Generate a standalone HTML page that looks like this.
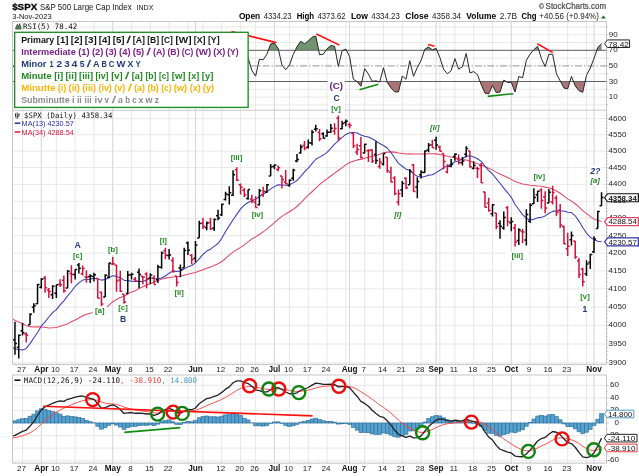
<!DOCTYPE html><html><head><meta charset="utf-8"><title>$SPX</title><style>html,body{margin:0;padding:0;background:#fff}body{width:639px;height:476px;overflow:hidden}</style></head><body><svg width="639" height="476" viewBox="0 0 639 476" style="display:block">
<rect width="639" height="476" fill="#fff"/>
<g shape-rendering="auto">
<line x1="22.50" y1="21.5" x2="22.50" y2="364.3" stroke="#e2e2e2" stroke-width="0.8"/>
<line x1="41.30" y1="21.5" x2="41.30" y2="364.3" stroke="#c9c9c9" stroke-width="0.8"/>
<line x1="56.34" y1="21.5" x2="56.34" y2="364.3" stroke="#e2e2e2" stroke-width="0.8"/>
<line x1="75.14" y1="21.5" x2="75.14" y2="364.3" stroke="#e2e2e2" stroke-width="0.8"/>
<line x1="93.94" y1="21.5" x2="93.94" y2="364.3" stroke="#e2e2e2" stroke-width="0.8"/>
<line x1="112.74" y1="21.5" x2="112.74" y2="364.3" stroke="#c9c9c9" stroke-width="0.8"/>
<line x1="131.54" y1="21.5" x2="131.54" y2="364.3" stroke="#e2e2e2" stroke-width="0.8"/>
<line x1="150.34" y1="21.5" x2="150.34" y2="364.3" stroke="#e2e2e2" stroke-width="0.8"/>
<line x1="169.14" y1="21.5" x2="169.14" y2="364.3" stroke="#e2e2e2" stroke-width="0.8"/>
<line x1="187.94" y1="21.5" x2="187.94" y2="364.3" stroke="#e2e2e2" stroke-width="0.8"/>
<line x1="195.46" y1="21.5" x2="195.46" y2="364.3" stroke="#c9c9c9" stroke-width="0.8"/>
<line x1="202.98" y1="21.5" x2="202.98" y2="364.3" stroke="#e2e2e2" stroke-width="0.8"/>
<line x1="221.78" y1="21.5" x2="221.78" y2="364.3" stroke="#e2e2e2" stroke-width="0.8"/>
<line x1="240.58" y1="21.5" x2="240.58" y2="364.3" stroke="#e2e2e2" stroke-width="0.8"/>
<line x1="255.62" y1="21.5" x2="255.62" y2="364.3" stroke="#e2e2e2" stroke-width="0.8"/>
<line x1="274.42" y1="21.5" x2="274.42" y2="364.3" stroke="#c9c9c9" stroke-width="0.8"/>
<line x1="289.46" y1="21.5" x2="289.46" y2="364.3" stroke="#e2e2e2" stroke-width="0.8"/>
<line x1="308.26" y1="21.5" x2="308.26" y2="364.3" stroke="#e2e2e2" stroke-width="0.8"/>
<line x1="327.06" y1="21.5" x2="327.06" y2="364.3" stroke="#e2e2e2" stroke-width="0.8"/>
<line x1="345.86" y1="21.5" x2="345.86" y2="364.3" stroke="#e2e2e2" stroke-width="0.8"/>
<line x1="349.62" y1="21.5" x2="349.62" y2="364.3" stroke="#c9c9c9" stroke-width="0.8"/>
<line x1="364.66" y1="21.5" x2="364.66" y2="364.3" stroke="#e2e2e2" stroke-width="0.8"/>
<line x1="383.46" y1="21.5" x2="383.46" y2="364.3" stroke="#e2e2e2" stroke-width="0.8"/>
<line x1="402.26" y1="21.5" x2="402.26" y2="364.3" stroke="#e2e2e2" stroke-width="0.8"/>
<line x1="421.06" y1="21.5" x2="421.06" y2="364.3" stroke="#e2e2e2" stroke-width="0.8"/>
<line x1="436.10" y1="21.5" x2="436.10" y2="364.3" stroke="#c9c9c9" stroke-width="0.8"/>
<line x1="439.86" y1="21.5" x2="439.86" y2="364.3" stroke="#e2e2e2" stroke-width="0.8"/>
<line x1="454.90" y1="21.5" x2="454.90" y2="364.3" stroke="#e2e2e2" stroke-width="0.8"/>
<line x1="473.70" y1="21.5" x2="473.70" y2="364.3" stroke="#e2e2e2" stroke-width="0.8"/>
<line x1="492.50" y1="21.5" x2="492.50" y2="364.3" stroke="#e2e2e2" stroke-width="0.8"/>
<line x1="511.30" y1="21.5" x2="511.30" y2="364.3" stroke="#c9c9c9" stroke-width="0.8"/>
<line x1="530.10" y1="21.5" x2="530.10" y2="364.3" stroke="#e2e2e2" stroke-width="0.8"/>
<line x1="548.90" y1="21.5" x2="548.90" y2="364.3" stroke="#e2e2e2" stroke-width="0.8"/>
<line x1="567.70" y1="21.5" x2="567.70" y2="364.3" stroke="#e2e2e2" stroke-width="0.8"/>
<line x1="586.50" y1="21.5" x2="586.50" y2="364.3" stroke="#e2e2e2" stroke-width="0.8"/>
<line x1="594.02" y1="21.5" x2="594.02" y2="364.3" stroke="#c9c9c9" stroke-width="0.8"/>
<line x1="22.50" y1="375.0" x2="22.50" y2="463.0" stroke="#e2e2e2" stroke-width="0.8"/>
<line x1="41.30" y1="375.0" x2="41.30" y2="463.0" stroke="#c9c9c9" stroke-width="0.8"/>
<line x1="56.34" y1="375.0" x2="56.34" y2="463.0" stroke="#e2e2e2" stroke-width="0.8"/>
<line x1="75.14" y1="375.0" x2="75.14" y2="463.0" stroke="#e2e2e2" stroke-width="0.8"/>
<line x1="93.94" y1="375.0" x2="93.94" y2="463.0" stroke="#e2e2e2" stroke-width="0.8"/>
<line x1="112.74" y1="375.0" x2="112.74" y2="463.0" stroke="#c9c9c9" stroke-width="0.8"/>
<line x1="131.54" y1="375.0" x2="131.54" y2="463.0" stroke="#e2e2e2" stroke-width="0.8"/>
<line x1="150.34" y1="375.0" x2="150.34" y2="463.0" stroke="#e2e2e2" stroke-width="0.8"/>
<line x1="169.14" y1="375.0" x2="169.14" y2="463.0" stroke="#e2e2e2" stroke-width="0.8"/>
<line x1="187.94" y1="375.0" x2="187.94" y2="463.0" stroke="#e2e2e2" stroke-width="0.8"/>
<line x1="195.46" y1="375.0" x2="195.46" y2="463.0" stroke="#c9c9c9" stroke-width="0.8"/>
<line x1="202.98" y1="375.0" x2="202.98" y2="463.0" stroke="#e2e2e2" stroke-width="0.8"/>
<line x1="221.78" y1="375.0" x2="221.78" y2="463.0" stroke="#e2e2e2" stroke-width="0.8"/>
<line x1="240.58" y1="375.0" x2="240.58" y2="463.0" stroke="#e2e2e2" stroke-width="0.8"/>
<line x1="255.62" y1="375.0" x2="255.62" y2="463.0" stroke="#e2e2e2" stroke-width="0.8"/>
<line x1="274.42" y1="375.0" x2="274.42" y2="463.0" stroke="#c9c9c9" stroke-width="0.8"/>
<line x1="289.46" y1="375.0" x2="289.46" y2="463.0" stroke="#e2e2e2" stroke-width="0.8"/>
<line x1="308.26" y1="375.0" x2="308.26" y2="463.0" stroke="#e2e2e2" stroke-width="0.8"/>
<line x1="327.06" y1="375.0" x2="327.06" y2="463.0" stroke="#e2e2e2" stroke-width="0.8"/>
<line x1="345.86" y1="375.0" x2="345.86" y2="463.0" stroke="#e2e2e2" stroke-width="0.8"/>
<line x1="349.62" y1="375.0" x2="349.62" y2="463.0" stroke="#c9c9c9" stroke-width="0.8"/>
<line x1="364.66" y1="375.0" x2="364.66" y2="463.0" stroke="#e2e2e2" stroke-width="0.8"/>
<line x1="383.46" y1="375.0" x2="383.46" y2="463.0" stroke="#e2e2e2" stroke-width="0.8"/>
<line x1="402.26" y1="375.0" x2="402.26" y2="463.0" stroke="#e2e2e2" stroke-width="0.8"/>
<line x1="421.06" y1="375.0" x2="421.06" y2="463.0" stroke="#e2e2e2" stroke-width="0.8"/>
<line x1="436.10" y1="375.0" x2="436.10" y2="463.0" stroke="#c9c9c9" stroke-width="0.8"/>
<line x1="439.86" y1="375.0" x2="439.86" y2="463.0" stroke="#e2e2e2" stroke-width="0.8"/>
<line x1="454.90" y1="375.0" x2="454.90" y2="463.0" stroke="#e2e2e2" stroke-width="0.8"/>
<line x1="473.70" y1="375.0" x2="473.70" y2="463.0" stroke="#e2e2e2" stroke-width="0.8"/>
<line x1="492.50" y1="375.0" x2="492.50" y2="463.0" stroke="#e2e2e2" stroke-width="0.8"/>
<line x1="511.30" y1="375.0" x2="511.30" y2="463.0" stroke="#c9c9c9" stroke-width="0.8"/>
<line x1="530.10" y1="375.0" x2="530.10" y2="463.0" stroke="#e2e2e2" stroke-width="0.8"/>
<line x1="548.90" y1="375.0" x2="548.90" y2="463.0" stroke="#e2e2e2" stroke-width="0.8"/>
<line x1="567.70" y1="375.0" x2="567.70" y2="463.0" stroke="#e2e2e2" stroke-width="0.8"/>
<line x1="586.50" y1="375.0" x2="586.50" y2="463.0" stroke="#e2e2e2" stroke-width="0.8"/>
<line x1="594.02" y1="375.0" x2="594.02" y2="463.0" stroke="#c9c9c9" stroke-width="0.8"/>
<line x1="12.5" y1="104.90" x2="606.5" y2="104.90" stroke="#e2e2e2" stroke-width="0.8"/>
<line x1="12.5" y1="97.10" x2="606.5" y2="97.10" stroke="#e2e2e2" stroke-width="0.8"/>
<line x1="12.5" y1="89.30" x2="606.5" y2="89.30" stroke="#e2e2e2" stroke-width="0.8"/>
<line x1="12.5" y1="73.70" x2="606.5" y2="73.70" stroke="#e2e2e2" stroke-width="0.8"/>
<line x1="12.5" y1="58.10" x2="606.5" y2="58.10" stroke="#e2e2e2" stroke-width="0.8"/>
<line x1="12.5" y1="42.50" x2="606.5" y2="42.50" stroke="#e2e2e2" stroke-width="0.8"/>
<line x1="12.5" y1="34.70" x2="606.5" y2="34.70" stroke="#e2e2e2" stroke-width="0.8"/>
<line x1="12.5" y1="26.90" x2="606.5" y2="26.90" stroke="#e2e2e2" stroke-width="0.8"/>
<line x1="12.5" y1="362.85" x2="606.5" y2="362.85" stroke="#e2e2e2" stroke-width="0.8"/>
<line x1="12.5" y1="344.00" x2="606.5" y2="344.00" stroke="#e2e2e2" stroke-width="0.8"/>
<line x1="12.5" y1="325.39" x2="606.5" y2="325.39" stroke="#e2e2e2" stroke-width="0.8"/>
<line x1="12.5" y1="307.01" x2="606.5" y2="307.01" stroke="#e2e2e2" stroke-width="0.8"/>
<line x1="12.5" y1="288.86" x2="606.5" y2="288.86" stroke="#e2e2e2" stroke-width="0.8"/>
<line x1="12.5" y1="270.92" x2="606.5" y2="270.92" stroke="#e2e2e2" stroke-width="0.8"/>
<line x1="12.5" y1="253.20" x2="606.5" y2="253.20" stroke="#e2e2e2" stroke-width="0.8"/>
<line x1="12.5" y1="235.69" x2="606.5" y2="235.69" stroke="#e2e2e2" stroke-width="0.8"/>
<line x1="12.5" y1="218.39" x2="606.5" y2="218.39" stroke="#e2e2e2" stroke-width="0.8"/>
<line x1="12.5" y1="201.28" x2="606.5" y2="201.28" stroke="#e2e2e2" stroke-width="0.8"/>
<line x1="12.5" y1="184.37" x2="606.5" y2="184.37" stroke="#e2e2e2" stroke-width="0.8"/>
<line x1="12.5" y1="167.65" x2="606.5" y2="167.65" stroke="#e2e2e2" stroke-width="0.8"/>
<line x1="12.5" y1="151.12" x2="606.5" y2="151.12" stroke="#e2e2e2" stroke-width="0.8"/>
<line x1="12.5" y1="134.77" x2="606.5" y2="134.77" stroke="#e2e2e2" stroke-width="0.8"/>
<line x1="12.5" y1="118.60" x2="606.5" y2="118.60" stroke="#e2e2e2" stroke-width="0.8"/>
<line x1="12.5" y1="460.68" x2="606.5" y2="460.68" stroke="#e2e2e2" stroke-width="0.8"/>
<line x1="12.5" y1="448.12" x2="606.5" y2="448.12" stroke="#e2e2e2" stroke-width="0.8"/>
<line x1="12.5" y1="435.56" x2="606.5" y2="435.56" stroke="#e2e2e2" stroke-width="0.8"/>
<line x1="12.5" y1="423.00" x2="606.5" y2="423.00" stroke="#e2e2e2" stroke-width="0.8"/>
<line x1="12.5" y1="410.44" x2="606.5" y2="410.44" stroke="#e2e2e2" stroke-width="0.8"/>
<line x1="12.5" y1="397.88" x2="606.5" y2="397.88" stroke="#e2e2e2" stroke-width="0.8"/>
<line x1="12.5" y1="385.32" x2="606.5" y2="385.32" stroke="#e2e2e2" stroke-width="0.8"/>
</g>
<defs><clipPath id="cR"><rect x="12.5" y="21.5" width="594.0" height="88.70"/></clipPath><clipPath id="cP"><rect x="12.5" y="110.2" width="594.0" height="254.10"/></clipPath><clipPath id="cM"><rect x="12.5" y="375.0" width="594.0" height="88.00"/></clipPath><clipPath id="cOB"><rect x="12.5" y="21.5" width="594.0" height="28.80"/></clipPath>
<clipPath id="cOS"><rect x="12.5" y="81.50" width="594.0" height="28.70"/></clipPath></defs>
<polygon points="11.22,50.30 11.22,67.80 14.98,65.45 18.74,60.83 22.50,59.40 26.26,61.59 30.02,49.40 33.78,45.99 37.54,39.78 41.30,38.55 45.06,49.04 48.82,53.40 52.58,50.15 56.34,49.20 60.10,49.32 63.86,60.98 67.62,45.44 71.38,50.36 75.14,47.04 78.90,46.16 82.66,46.47 86.42,65.28 90.18,63.09 93.94,60.80 97.70,87.04 101.46,89.73 105.22,59.00 108.98,52.31 112.74,52.95 116.50,69.19 120.26,75.94 124.02,81.59 127.78,60.68 131.54,60.28 135.30,66.07 139.06,60.72 142.82,63.41 146.58,66.16 150.34,60.91 154.10,72.59 157.86,55.19 161.62,47.36 165.38,50.28 169.14,50.12 172.90,70.89 176.66,78.85 180.42,65.45 184.18,52.87 187.94,52.85 191.70,62.99 195.46,52.86 199.22,43.95 202.98,47.40 206.74,45.83 210.50,53.78 214.26,48.03 218.02,47.03 221.78,40.47 225.54,37.30 229.30,36.95 233.06,33.08 236.82,42.27 240.58,52.95 244.34,62.84 248.10,57.69 251.86,70.47 255.62,76.13 259.38,59.24 263.14,59.84 266.90,54.15 270.66,43.98 274.42,43.25 278.18,48.37 281.94,65.02 285.70,69.68 289.46,65.02 293.22,54.48 296.98,46.85 300.74,41.17 304.50,43.82 308.26,41.05 312.02,37.16 315.78,36.11 319.54,54.66 323.30,54.22 327.06,48.83 330.82,45.59 334.58,46.19 338.34,66.32 342.10,50.72 345.86,49.08 349.62,56.65 353.38,79.22 357.14,81.68 360.90,86.31 364.66,68.68 368.42,74.07 372.18,81.36 375.94,80.79 379.70,82.05 383.46,67.73 387.22,82.45 390.98,87.89 394.74,91.89 398.50,91.96 402.26,76.08 406.02,79.26 409.78,60.74 413.54,76.31 417.30,67.50 421.06,60.47 424.82,49.22 428.58,46.97 432.34,49.87 436.10,48.36 439.86,57.48 443.62,69.34 447.38,73.79 451.14,70.75 454.90,58.63 458.66,69.16 462.42,66.71 466.18,53.55 469.94,72.82 473.70,71.60 477.46,74.62 481.22,84.64 484.98,93.09 488.74,93.88 492.50,85.33 496.26,92.57 500.02,92.10 503.78,80.08 507.54,82.47 511.30,82.27 515.06,92.04 518.82,76.48 522.58,77.79 526.34,60.33 530.10,54.05 533.86,49.61 537.62,46.32 541.38,58.57 545.14,66.57 548.90,54.20 552.66,54.38 556.42,73.73 560.18,80.90 563.94,88.04 567.70,88.83 571.46,76.36 575.22,85.88 578.98,90.69 582.74,92.29 586.50,75.32 590.26,68.04 594.02,58.38 597.78,47.44 601.54,43.73 601.54,50.30" fill="#71966f" clip-path="url(#cOB)"/>
<polygon points="11.22,81.50 11.22,67.80 14.98,65.45 18.74,60.83 22.50,59.40 26.26,61.59 30.02,49.40 33.78,45.99 37.54,39.78 41.30,38.55 45.06,49.04 48.82,53.40 52.58,50.15 56.34,49.20 60.10,49.32 63.86,60.98 67.62,45.44 71.38,50.36 75.14,47.04 78.90,46.16 82.66,46.47 86.42,65.28 90.18,63.09 93.94,60.80 97.70,87.04 101.46,89.73 105.22,59.00 108.98,52.31 112.74,52.95 116.50,69.19 120.26,75.94 124.02,81.59 127.78,60.68 131.54,60.28 135.30,66.07 139.06,60.72 142.82,63.41 146.58,66.16 150.34,60.91 154.10,72.59 157.86,55.19 161.62,47.36 165.38,50.28 169.14,50.12 172.90,70.89 176.66,78.85 180.42,65.45 184.18,52.87 187.94,52.85 191.70,62.99 195.46,52.86 199.22,43.95 202.98,47.40 206.74,45.83 210.50,53.78 214.26,48.03 218.02,47.03 221.78,40.47 225.54,37.30 229.30,36.95 233.06,33.08 236.82,42.27 240.58,52.95 244.34,62.84 248.10,57.69 251.86,70.47 255.62,76.13 259.38,59.24 263.14,59.84 266.90,54.15 270.66,43.98 274.42,43.25 278.18,48.37 281.94,65.02 285.70,69.68 289.46,65.02 293.22,54.48 296.98,46.85 300.74,41.17 304.50,43.82 308.26,41.05 312.02,37.16 315.78,36.11 319.54,54.66 323.30,54.22 327.06,48.83 330.82,45.59 334.58,46.19 338.34,66.32 342.10,50.72 345.86,49.08 349.62,56.65 353.38,79.22 357.14,81.68 360.90,86.31 364.66,68.68 368.42,74.07 372.18,81.36 375.94,80.79 379.70,82.05 383.46,67.73 387.22,82.45 390.98,87.89 394.74,91.89 398.50,91.96 402.26,76.08 406.02,79.26 409.78,60.74 413.54,76.31 417.30,67.50 421.06,60.47 424.82,49.22 428.58,46.97 432.34,49.87 436.10,48.36 439.86,57.48 443.62,69.34 447.38,73.79 451.14,70.75 454.90,58.63 458.66,69.16 462.42,66.71 466.18,53.55 469.94,72.82 473.70,71.60 477.46,74.62 481.22,84.64 484.98,93.09 488.74,93.88 492.50,85.33 496.26,92.57 500.02,92.10 503.78,80.08 507.54,82.47 511.30,82.27 515.06,92.04 518.82,76.48 522.58,77.79 526.34,60.33 530.10,54.05 533.86,49.61 537.62,46.32 541.38,58.57 545.14,66.57 548.90,54.20 552.66,54.38 556.42,73.73 560.18,80.90 563.94,88.04 567.70,88.83 571.46,76.36 575.22,85.88 578.98,90.69 582.74,92.29 586.50,75.32 590.26,68.04 594.02,58.38 597.78,47.44 601.54,43.73 601.54,81.50" fill="#a97474" clip-path="url(#cOS)"/>
<line x1="12.5" y1="50.30" x2="606.5" y2="50.30" stroke="#606060" stroke-width="1"/>
<line x1="12.5" y1="81.50" x2="606.5" y2="81.50" stroke="#606060" stroke-width="1"/>
<line x1="12.5" y1="65.90" x2="606.5" y2="65.90" stroke="#888" stroke-width="0.9" stroke-dasharray="7 2 1.5 2"/>
<polyline clip-path="url(#cR)" points="11.22,67.80 14.98,65.45 18.74,60.83 22.50,59.40 26.26,61.59 30.02,49.40 33.78,45.99 37.54,39.78 41.30,38.55 45.06,49.04 48.82,53.40 52.58,50.15 56.34,49.20 60.10,49.32 63.86,60.98 67.62,45.44 71.38,50.36 75.14,47.04 78.90,46.16 82.66,46.47 86.42,65.28 90.18,63.09 93.94,60.80 97.70,87.04 101.46,89.73 105.22,59.00 108.98,52.31 112.74,52.95 116.50,69.19 120.26,75.94 124.02,81.59 127.78,60.68 131.54,60.28 135.30,66.07 139.06,60.72 142.82,63.41 146.58,66.16 150.34,60.91 154.10,72.59 157.86,55.19 161.62,47.36 165.38,50.28 169.14,50.12 172.90,70.89 176.66,78.85 180.42,65.45 184.18,52.87 187.94,52.85 191.70,62.99 195.46,52.86 199.22,43.95 202.98,47.40 206.74,45.83 210.50,53.78 214.26,48.03 218.02,47.03 221.78,40.47 225.54,37.30 229.30,36.95 233.06,33.08 236.82,42.27 240.58,52.95 244.34,62.84 248.10,57.69 251.86,70.47 255.62,76.13 259.38,59.24 263.14,59.84 266.90,54.15 270.66,43.98 274.42,43.25 278.18,48.37 281.94,65.02 285.70,69.68 289.46,65.02 293.22,54.48 296.98,46.85 300.74,41.17 304.50,43.82 308.26,41.05 312.02,37.16 315.78,36.11 319.54,54.66 323.30,54.22 327.06,48.83 330.82,45.59 334.58,46.19 338.34,66.32 342.10,50.72 345.86,49.08 349.62,56.65 353.38,79.22 357.14,81.68 360.90,86.31 364.66,68.68 368.42,74.07 372.18,81.36 375.94,80.79 379.70,82.05 383.46,67.73 387.22,82.45 390.98,87.89 394.74,91.89 398.50,91.96 402.26,76.08 406.02,79.26 409.78,60.74 413.54,76.31 417.30,67.50 421.06,60.47 424.82,49.22 428.58,46.97 432.34,49.87 436.10,48.36 439.86,57.48 443.62,69.34 447.38,73.79 451.14,70.75 454.90,58.63 458.66,69.16 462.42,66.71 466.18,53.55 469.94,72.82 473.70,71.60 477.46,74.62 481.22,84.64 484.98,93.09 488.74,93.88 492.50,85.33 496.26,92.57 500.02,92.10 503.78,80.08 507.54,82.47 511.30,82.27 515.06,92.04 518.82,76.48 522.58,77.79 526.34,60.33 530.10,54.05 533.86,49.61 537.62,46.32 541.38,58.57 545.14,66.57 548.90,54.20 552.66,54.38 556.42,73.73 560.18,80.90 563.94,88.04 567.70,88.83 571.46,76.36 575.22,85.88 578.98,90.69 582.74,92.29 586.50,75.32 590.26,68.04 594.02,58.38 597.78,47.44 601.54,43.73" fill="none" stroke="#262626" stroke-width="1.0" stroke-linejoin="round"/>
<polyline clip-path="url(#cP)" points="11.22,317.81 14.98,320.32 18.74,322.11 22.50,323.57 26.26,325.66 30.02,326.64 33.78,326.98 37.54,326.77 41.30,326.91 45.06,327.30 48.82,327.92 52.58,327.76 56.34,327.44 60.10,326.22 63.86,325.12 67.62,323.66 71.38,321.84 75.14,320.01 78.90,318.01 82.66,315.81 86.42,314.20 90.18,313.25 93.94,312.30 97.70,311.38 101.46,310.69 105.22,308.35 108.98,305.04 112.74,301.69 116.50,299.55 120.26,297.42 124.02,296.35 127.78,294.00 131.54,292.02 135.30,290.78 139.06,288.65 142.82,286.72 146.58,285.09 150.34,283.41 154.10,281.95 157.86,280.56 161.62,279.01 165.38,278.14 169.14,277.42 172.90,276.95 176.66,276.68 180.42,276.20 184.18,275.18 187.94,274.17 191.70,273.24 195.46,272.46 199.22,270.94 202.98,269.65 206.74,268.30 210.50,267.12 214.26,265.40 218.02,263.67 221.78,261.57 225.54,258.47 229.30,255.18 233.06,252.17 236.82,249.68 240.58,247.40 244.34,244.86 248.10,241.86 251.86,238.91 255.62,236.93 259.38,234.47 263.14,231.84 266.90,229.19 270.66,225.94 274.42,222.57 278.18,219.42 281.94,216.36 285.70,213.93 289.46,211.80 293.22,209.31 296.98,206.50 300.74,202.84 304.50,198.94 308.26,195.23 312.02,191.75 315.78,188.17 319.54,184.65 323.30,181.53 327.06,178.85 330.82,175.96 334.58,173.17 338.34,170.53 342.10,167.70 345.86,164.87 349.62,162.55 353.38,161.14 357.14,159.88 360.90,159.37 364.66,158.31 368.42,157.24 372.18,156.25 375.94,155.40 379.70,154.28 383.46,152.72 387.22,152.14 390.98,151.88 394.74,152.13 398.50,152.91 402.26,153.45 406.02,154.03 409.78,153.79 413.54,154.01 417.30,154.05 421.06,154.10 424.82,153.86 428.58,153.81 432.34,153.79 436.10,153.86 439.86,154.42 443.62,155.39 447.38,156.21 451.14,156.97 454.90,157.62 458.66,158.65 462.42,159.62 466.18,159.93 469.94,161.22 473.70,162.54 477.46,163.83 481.22,164.92 484.98,166.60 488.74,168.14 492.50,169.92 496.26,172.13 500.02,174.03 503.78,175.69 507.54,177.42 511.30,179.41 515.06,181.46 518.82,182.85 522.58,183.96 526.34,184.57 530.10,185.20 533.86,185.49 537.62,186.08 541.38,186.34 545.14,187.12 548.90,187.71 552.66,188.94 556.42,190.93 560.18,193.22 563.94,196.12 567.70,198.92 571.46,201.09 575.22,203.74 578.98,206.96 582.74,210.68 586.50,213.66 590.26,216.42 594.02,219.13 597.78,220.47 601.54,221.44" fill="none" stroke="#e0486a" stroke-width="1.05" stroke-linejoin="round"/>
<polyline clip-path="url(#cP)" points="11.22,346.22 14.98,349.10 18.74,349.54 22.50,349.96 26.26,348.43 30.02,343.63 33.78,338.02 37.54,332.57 41.30,325.94 45.06,321.94 48.82,317.02 52.58,312.68 56.34,309.68 60.10,304.85 63.86,300.83 67.62,295.93 71.38,291.47 75.14,286.47 78.90,282.95 82.66,280.08 86.42,279.52 90.18,279.27 93.94,278.26 97.70,278.78 101.46,280.13 105.22,279.41 108.98,277.74 112.74,275.65 116.50,276.38 120.26,277.67 124.02,280.16 127.78,280.67 131.54,281.13 135.30,281.42 139.06,281.31 142.82,281.48 146.58,280.04 150.34,277.82 154.10,278.52 157.86,278.82 161.62,277.98 165.38,275.99 169.14,273.19 172.90,270.87 176.66,271.45 180.42,271.09 184.18,268.72 187.94,266.86 191.70,265.51 195.46,262.87 199.22,258.88 202.98,254.43 206.74,251.04 210.50,249.16 214.26,246.41 218.02,243.54 221.78,238.34 225.54,231.55 229.30,225.64 233.06,219.79 236.82,214.39 240.58,208.88 244.34,205.08 248.10,202.47 251.86,200.52 255.62,199.34 259.38,196.45 263.14,194.28 266.90,191.74 270.66,188.85 274.42,186.60 278.18,184.68 281.94,185.05 285.70,185.32 289.46,184.78 293.22,182.88 296.98,180.55 300.74,176.38 304.50,171.84 308.26,168.14 312.02,163.59 315.78,159.27 319.54,157.12 323.30,155.07 327.06,152.34 330.82,148.40 334.58,144.16 338.34,140.95 342.10,137.36 345.86,134.43 349.62,132.76 353.38,132.56 357.14,133.09 360.90,135.01 364.66,136.20 368.42,137.08 372.18,138.81 375.94,140.96 379.70,143.56 383.46,145.50 387.22,148.02 390.98,152.52 394.74,158.06 398.50,163.34 402.26,166.24 406.02,169.16 409.78,170.24 413.54,173.89 417.30,176.30 421.06,177.19 424.82,176.44 428.58,175.14 432.34,174.67 436.10,172.67 439.86,170.30 443.62,167.86 447.38,165.78 451.14,164.30 454.90,161.76 458.66,161.10 462.42,158.78 466.18,156.25 469.94,155.82 473.70,156.94 477.46,158.74 481.22,161.43 484.98,166.17 488.74,170.69 492.50,173.98 496.26,178.55 500.02,183.28 503.78,188.14 507.54,192.66 511.30,197.33 515.06,204.54 518.82,209.45 522.58,214.60 526.34,218.18 530.10,219.94 533.86,219.20 537.62,217.69 541.38,217.37 545.14,215.93 548.90,213.31 552.66,211.37 556.42,210.67 560.18,210.95 563.94,211.09 567.70,212.32 571.46,212.60 575.22,215.81 578.98,221.07 582.74,227.47 586.50,233.08 590.26,237.26 594.02,239.67 597.78,241.17 601.54,241.57" fill="none" stroke="#3c3cb4" stroke-width="1.05" stroke-linejoin="round"/>
<path d="M14.98 321.66V354.74M12.98 339.66H14.98M14.98 343.58H16.98" stroke="#050505" stroke-width="1.5" fill="none"/>
<path d="M18.74 334.61V358.48M16.74 347.15H18.74M18.74 335.26H20.74" stroke="#050505" stroke-width="1.5" fill="none"/>
<path d="M22.50 323.08V335.45M20.50 330.82H22.50M22.50 332.83H24.50" stroke="#050505" stroke-width="1.5" fill="none"/>
<path d="M26.26 332.21V342.53M24.26 334.09H26.26M26.26 335.16H28.26" stroke="#d4103a" stroke-width="1.5" fill="none"/>
<path d="M30.02 313.22V324.67M28.02 324.67H30.02M30.02 314.24H32.02" stroke="#050505" stroke-width="1.5" fill="none"/>
<path d="M33.78 303.25V312.67M31.78 307.30H33.78M33.78 305.81H35.78" stroke="#050505" stroke-width="1.5" fill="none"/>
<path d="M37.54 284.08V303.86M35.54 303.86H37.54M37.54 284.60H39.54" stroke="#050505" stroke-width="1.5" fill="none"/>
<path d="M41.30 278.01V288.39M39.30 287.16H41.30M41.30 279.14H43.30" stroke="#050505" stroke-width="1.5" fill="none"/>
<path d="M45.06 276.05V292.70M43.06 277.88H45.06M45.06 287.74H47.06" stroke="#d4103a" stroke-width="1.5" fill="none"/>
<path d="M48.82 288.07V297.89M46.82 289.94H48.82M48.82 291.43H50.82" stroke="#d4103a" stroke-width="1.5" fill="none"/>
<path d="M52.58 285.32V298.88M50.58 294.77H52.58M52.58 286.15H54.58" stroke="#050505" stroke-width="1.5" fill="none"/>
<path d="M56.34 284.53V297.90M54.34 293.31H56.34M56.34 284.67H58.34" stroke="#050505" stroke-width="1.5" fill="none"/>
<path d="M60.10 279.23V287.01M58.10 284.25H60.10M60.10 284.73H62.10" stroke="#d4103a" stroke-width="1.5" fill="none"/>
<path d="M63.86 275.60V292.68M61.86 280.14H63.86M63.86 290.86H65.86" stroke="#d4103a" stroke-width="1.5" fill="none"/>
<path d="M67.62 269.93V288.17M65.62 287.94H67.62M67.62 271.37H69.62" stroke="#050505" stroke-width="1.5" fill="none"/>
<path d="M71.38 265.33V283.20M69.38 273.55H71.38M71.38 274.44H73.38" stroke="#d4103a" stroke-width="1.5" fill="none"/>
<path d="M75.14 269.41V279.61M73.14 274.60H75.14M75.14 269.55H77.14" stroke="#050505" stroke-width="1.5" fill="none"/>
<path d="M78.90 263.09V273.46M76.90 264.95H78.90M78.90 268.29H80.90" stroke="#050505" stroke-width="1.5" fill="none"/>
<path d="M82.66 265.55V275.56M80.66 273.83H82.66M82.66 268.41H84.66" stroke="#d4103a" stroke-width="1.5" fill="none"/>
<path d="M86.42 270.53V282.71M84.42 277.00H86.42M86.42 277.24H88.42" stroke="#d4103a" stroke-width="1.5" fill="none"/>
<path d="M90.18 274.30V282.96M88.18 276.40H90.18M90.18 275.91H92.18" stroke="#050505" stroke-width="1.5" fill="none"/>
<path d="M93.94 272.73V281.56M91.94 276.43H93.94M93.94 274.65H95.94" stroke="#050505" stroke-width="1.5" fill="none"/>
<path d="M97.70 278.45V298.32M95.70 278.45H97.70M97.70 298.23H99.70" stroke="#d4103a" stroke-width="1.5" fill="none"/>
<path d="M101.46 291.69V306.35M99.46 292.37H101.46M101.46 303.92H103.46" stroke="#d4103a" stroke-width="1.5" fill="none"/>
<path d="M105.22 274.22V296.90M103.22 296.90H105.22M105.22 275.25H107.22" stroke="#050505" stroke-width="1.5" fill="none"/>
<path d="M108.98 262.89V278.18M106.98 277.30H108.98M108.98 263.09H110.98" stroke="#050505" stroke-width="1.5" fill="none"/>
<path d="M112.74 256.92V265.00M110.74 264.05H112.74M112.74 263.66H114.74" stroke="#d4103a" stroke-width="1.5" fill="none"/>
<path d="M116.50 265.00V291.67M114.50 265.00H116.50M116.50 280.91H118.50" stroke="#d4103a" stroke-width="1.5" fill="none"/>
<path d="M120.26 270.63V291.98M118.26 279.95H120.26M120.26 291.30H122.26" stroke="#d4103a" stroke-width="1.5" fill="none"/>
<path d="M124.02 294.25V306.74M122.02 294.27H124.02M124.02 302.02H126.02" stroke="#d4103a" stroke-width="1.5" fill="none"/>
<path d="M127.78 271.08V293.48M125.78 293.48H127.78M127.78 274.93H129.78" stroke="#050505" stroke-width="1.5" fill="none"/>
<path d="M131.54 272.77V279.39M129.54 274.67H131.54M131.54 274.26H133.54" stroke="#050505" stroke-width="1.5" fill="none"/>
<path d="M135.30 277.04V281.96M133.30 279.23H135.30M135.30 281.05H137.30" stroke="#d4103a" stroke-width="1.5" fill="none"/>
<path d="M139.06 268.50V288.35M137.06 272.26H139.06M139.06 274.44H141.06" stroke="#050505" stroke-width="1.5" fill="none"/>
<path d="M142.82 276.17V284.61M140.82 276.37H142.82M142.82 276.95H144.82" stroke="#d4103a" stroke-width="1.5" fill="none"/>
<path d="M146.58 272.26V288.27M144.58 274.11H146.58M146.58 279.29H148.58" stroke="#d4103a" stroke-width="1.5" fill="none"/>
<path d="M150.34 273.14V284.25M148.34 278.37H150.34M150.34 274.92H152.34" stroke="#050505" stroke-width="1.5" fill="none"/>
<path d="M154.10 275.19V284.40M152.10 277.90H154.10M154.10 284.39H156.10" stroke="#d4103a" stroke-width="1.5" fill="none"/>
<path d="M157.86 264.80V283.05M155.86 279.73H157.86M157.86 266.90H159.86" stroke="#050505" stroke-width="1.5" fill="none"/>
<path d="M161.62 251.53V268.77M159.62 267.29H161.62M161.62 252.99H163.62" stroke="#050505" stroke-width="1.5" fill="none"/>
<path d="M165.38 247.76V259.29M163.38 250.84H165.38M165.38 255.13H167.38" stroke="#d4103a" stroke-width="1.5" fill="none"/>
<path d="M169.14 249.06V259.48M167.14 255.55H169.14M169.14 254.90H171.14" stroke="#050505" stroke-width="1.5" fill="none"/>
<path d="M172.90 257.36V272.68M170.90 260.50H172.90M172.90 271.60H174.90" stroke="#d4103a" stroke-width="1.5" fill="none"/>
<path d="M176.66 276.11V286.52M174.66 276.11H176.66M176.66 282.47H178.66" stroke="#d4103a" stroke-width="1.5" fill="none"/>
<path d="M180.42 264.42V277.27M178.42 267.99H180.42M180.42 269.57H182.42" stroke="#050505" stroke-width="1.5" fill="none"/>
<path d="M184.18 247.77V267.83M182.18 267.83H184.18M184.18 250.38H186.18" stroke="#050505" stroke-width="1.5" fill="none"/>
<path d="M187.94 241.39V255.06M185.94 242.92H187.94M187.94 250.36H189.94" stroke="#050505" stroke-width="1.5" fill="none"/>
<path d="M191.70 253.91V264.28M189.70 255.57H191.70M191.70 259.42H193.70" stroke="#d4103a" stroke-width="1.5" fill="none"/>
<path d="M195.46 240.92V262.33M193.46 258.29H195.46M195.46 244.92H197.46" stroke="#050505" stroke-width="1.5" fill="none"/>
<path d="M199.22 220.70V237.92M197.22 237.92H199.22M199.22 223.56H201.22" stroke="#050505" stroke-width="1.5" fill="none"/>
<path d="M202.98 217.73V228.95M200.98 223.35H202.98M202.98 226.53H204.98" stroke="#d4103a" stroke-width="1.5" fill="none"/>
<path d="M206.74 221.51V230.24M204.74 227.38H206.74M206.74 223.05H208.74" stroke="#050505" stroke-width="1.5" fill="none"/>
<path d="M210.50 217.76V229.94M208.50 222.49H210.50M210.50 228.70H212.50" stroke="#d4103a" stroke-width="1.5" fill="none"/>
<path d="M214.26 218.17V230.94M212.26 228.30H214.26M214.26 219.58H216.26" stroke="#050505" stroke-width="1.5" fill="none"/>
<path d="M218.02 209.72V220.34M216.02 215.81H218.02M218.02 217.88H220.02" stroke="#050505" stroke-width="1.5" fill="none"/>
<path d="M221.78 203.74V215.98M219.78 214.63H221.78M221.78 204.15H223.78" stroke="#050505" stroke-width="1.5" fill="none"/>
<path d="M225.54 191.78V200.62M223.54 199.49H225.54M225.54 193.93H227.54" stroke="#050505" stroke-width="1.5" fill="none"/>
<path d="M229.30 186.22V204.52M227.30 194.85H229.30M229.30 192.72H231.30" stroke="#050505" stroke-width="1.5" fill="none"/>
<path d="M233.06 170.35V196.10M231.06 195.18H233.06M233.06 174.81H235.06" stroke="#050505" stroke-width="1.5" fill="none"/>
<path d="M236.82 167.26V180.97M234.82 169.76H236.82M236.82 180.25H238.82" stroke="#d4103a" stroke-width="1.5" fill="none"/>
<path d="M240.58 183.42V194.55M238.58 184.78H240.58M240.58 187.27H242.58" stroke="#d4103a" stroke-width="1.5" fill="none"/>
<path d="M244.34 188.11V196.94M242.34 190.21H244.34M244.34 195.05H246.34" stroke="#d4103a" stroke-width="1.5" fill="none"/>
<path d="M248.10 189.45V199.76M246.10 198.55H248.10M248.10 189.57H250.10" stroke="#050505" stroke-width="1.5" fill="none"/>
<path d="M251.86 194.76V203.33M249.86 198.96H251.86M251.86 200.95H253.86" stroke="#d4103a" stroke-width="1.5" fill="none"/>
<path d="M255.62 196.28V207.86M253.62 202.14H255.62M255.62 207.60H257.62" stroke="#d4103a" stroke-width="1.5" fill="none"/>
<path d="M259.38 188.72V205.49M257.38 204.69H259.38M259.38 190.75H261.38" stroke="#050505" stroke-width="1.5" fill="none"/>
<path d="M263.14 186.72V196.91M261.14 194.45H263.14M263.14 191.27H265.14" stroke="#d4103a" stroke-width="1.5" fill="none"/>
<path d="M266.90 184.01V192.93M264.90 191.92H266.90M266.90 184.67H268.90" stroke="#050505" stroke-width="1.5" fill="none"/>
<path d="M270.66 163.94V175.94M268.66 175.94H270.66M270.66 166.63H272.66" stroke="#050505" stroke-width="1.5" fill="none"/>
<path d="M274.42 164.61V169.32M272.42 166.59H274.42M274.42 164.89H276.42" stroke="#050505" stroke-width="1.5" fill="none"/>
<path d="M278.18 165.40V171.21M276.18 169.40H278.18M278.18 167.81H280.18" stroke="#d4103a" stroke-width="1.5" fill="none"/>
<path d="M281.94 175.88V188.51M279.94 175.88H281.94M281.94 179.58H283.94" stroke="#d4103a" stroke-width="1.5" fill="none"/>
<path d="M285.70 169.95V184.35M283.70 181.94H285.70M285.70 183.82H287.70" stroke="#d4103a" stroke-width="1.5" fill="none"/>
<path d="M289.46 179.24V186.86M287.46 185.41H289.46M289.46 180.27H291.46" stroke="#050505" stroke-width="1.5" fill="none"/>
<path d="M293.22 168.87V180.63M291.22 178.25H293.22M293.22 170.33H295.22" stroke="#050505" stroke-width="1.5" fill="none"/>
<path d="M296.98 154.06V162.36M294.98 160.88H296.98M296.98 159.40H298.98" stroke="#050505" stroke-width="1.5" fill="none"/>
<path d="M300.74 144.52V153.72M298.74 153.02H300.74M300.74 146.92H302.74" stroke="#050505" stroke-width="1.5" fill="none"/>
<path d="M304.50 141.12V150.36M302.50 145.42H304.50M304.50 148.44H306.50" stroke="#d4103a" stroke-width="1.5" fill="none"/>
<path d="M308.26 139.46V148.61M306.26 147.31H308.26M308.26 142.75H310.26" stroke="#050505" stroke-width="1.5" fill="none"/>
<path d="M312.02 129.88V145.43M310.02 143.08H312.02M312.02 132.25H314.02" stroke="#050505" stroke-width="1.5" fill="none"/>
<path d="M315.78 124.65V131.44M313.78 129.37H315.78M315.78 128.77H317.78" stroke="#050505" stroke-width="1.5" fill="none"/>
<path d="M319.54 129.09V141.19M317.54 132.45H319.54M319.54 138.80H321.54" stroke="#d4103a" stroke-width="1.5" fill="none"/>
<path d="M323.30 132.25V138.50M321.30 133.82H323.30M323.30 138.32H325.30" stroke="#050505" stroke-width="1.5" fill="none"/>
<path d="M327.06 129.52V136.71M325.06 136.02H327.06M327.06 132.36H329.06" stroke="#050505" stroke-width="1.5" fill="none"/>
<path d="M330.82 123.95V133.08M328.82 132.18H330.82M330.82 128.20H332.82" stroke="#050505" stroke-width="1.5" fill="none"/>
<path d="M334.58 123.35V134.66M332.58 130.96H334.58M334.58 128.43H336.58" stroke="#d4103a" stroke-width="1.5" fill="none"/>
<path d="M338.34 115.43V140.86M336.34 118.26H338.34M338.34 137.97H340.34" stroke="#d4103a" stroke-width="1.5" fill="none"/>
<path d="M342.10 120.87V129.32M340.10 128.76H342.10M342.10 123.43H344.10" stroke="#050505" stroke-width="1.5" fill="none"/>
<path d="M345.86 119.56V126.36M343.86 122.59H345.86M345.86 121.26H347.86" stroke="#050505" stroke-width="1.5" fill="none"/>
<path d="M349.62 122.66V128.18M347.62 124.53H349.62M349.62 125.20H351.62" stroke="#d4103a" stroke-width="1.5" fill="none"/>
<path d="M353.38 133.57V148.33M351.38 133.57H353.38M353.38 145.82H355.38" stroke="#d4103a" stroke-width="1.5" fill="none"/>
<path d="M357.14 143.83V154.98M355.14 152.11H357.14M357.14 149.60H359.14" stroke="#d4103a" stroke-width="1.5" fill="none"/>
<path d="M360.90 137.02V158.61M358.90 145.64H360.90M360.90 157.46H362.90" stroke="#d4103a" stroke-width="1.5" fill="none"/>
<path d="M364.66 143.71V153.13M362.66 152.99H364.66M364.66 144.17H366.66" stroke="#050505" stroke-width="1.5" fill="none"/>
<path d="M368.42 149.13V161.98M366.42 150.87H368.42M368.42 150.42H370.42" stroke="#d4103a" stroke-width="1.5" fill="none"/>
<path d="M372.18 149.42V162.99M370.18 149.70H372.18M372.18 160.88H374.18" stroke="#d4103a" stroke-width="1.5" fill="none"/>
<path d="M375.94 141.25V164.12M373.94 154.45H375.94M375.94 160.50H377.94" stroke="#050505" stroke-width="1.5" fill="none"/>
<path d="M379.70 158.06V168.75M377.70 166.52H379.70M379.70 162.09H381.70" stroke="#d4103a" stroke-width="1.5" fill="none"/>
<path d="M383.46 153.40V165.61M381.46 164.05H383.46M383.46 153.60H385.46" stroke="#050505" stroke-width="1.5" fill="none"/>
<path d="M387.22 157.18V172.69M385.22 157.18H387.22M387.22 170.79H389.22" stroke="#d4103a" stroke-width="1.5" fill="none"/>
<path d="M390.98 166.77V182.28M388.98 172.15H390.98M390.98 182.02H392.98" stroke="#d4103a" stroke-width="1.5" fill="none"/>
<path d="M394.74 176.37V195.35M392.74 177.99H394.74M394.74 193.47H396.74" stroke="#d4103a" stroke-width="1.5" fill="none"/>
<path d="M398.50 189.60V205.39M396.50 202.12H398.50M398.50 193.69H400.50" stroke="#d4103a" stroke-width="1.5" fill="none"/>
<path d="M402.26 180.93V196.88M400.26 190.12H402.26M402.26 183.55H404.26" stroke="#050505" stroke-width="1.5" fill="none"/>
<path d="M406.02 177.23V189.28M404.02 178.32H406.02M406.02 187.66H408.02" stroke="#d4103a" stroke-width="1.5" fill="none"/>
<path d="M409.78 169.02V184.67M407.78 184.67H409.78M409.78 171.41H411.78" stroke="#050505" stroke-width="1.5" fill="none"/>
<path d="M413.54 163.99V191.72M411.54 165.04H413.54M413.54 191.46H415.54" stroke="#d4103a" stroke-width="1.5" fill="none"/>
<path d="M417.30 177.28V198.24M415.30 187.05H417.30M417.30 181.55H419.30" stroke="#050505" stroke-width="1.5" fill="none"/>
<path d="M421.06 170.23V178.44M419.06 174.74H421.06M421.06 172.31H423.06" stroke="#050505" stroke-width="1.5" fill="none"/>
<path d="M424.82 150.17V172.86M422.82 172.50H424.82M424.82 151.00H426.82" stroke="#050505" stroke-width="1.5" fill="none"/>
<path d="M428.58 143.12V152.33M426.58 150.11H428.58M428.58 145.34H430.58" stroke="#050505" stroke-width="1.5" fill="none"/>
<path d="M432.34 139.65V147.79M430.34 144.64H432.34M432.34 147.70H434.34" stroke="#d4103a" stroke-width="1.5" fill="none"/>
<path d="M436.10 136.72V149.78M434.10 140.19H436.10M436.10 145.04H438.10" stroke="#050505" stroke-width="1.5" fill="none"/>
<path d="M439.86 145.53V151.53M437.86 146.92H439.86M439.86 151.26H441.86" stroke="#d4103a" stroke-width="1.5" fill="none"/>
<path d="M443.62 153.40V169.29M441.62 153.40H443.62M443.62 161.61H445.62" stroke="#d4103a" stroke-width="1.5" fill="none"/>
<path d="M447.38 164.16V173.26M445.38 171.90H447.38M447.38 166.37H449.38" stroke="#d4103a" stroke-width="1.5" fill="none"/>
<path d="M451.14 158.95V167.29M449.14 166.32H451.14M451.14 164.26H453.14" stroke="#050505" stroke-width="1.5" fill="none"/>
<path d="M454.90 153.26V160.82M452.90 156.49H454.90M454.90 154.35H456.90" stroke="#050505" stroke-width="1.5" fill="none"/>
<path d="M458.66 154.46V164.48M456.66 159.04H458.66M458.66 162.80H460.66" stroke="#d4103a" stroke-width="1.5" fill="none"/>
<path d="M462.42 157.01V165.58M460.42 162.55H462.42M462.42 160.96H464.42" stroke="#050505" stroke-width="1.5" fill="none"/>
<path d="M466.18 146.28V157.24M464.18 154.24H466.18M466.18 148.54H468.18" stroke="#050505" stroke-width="1.5" fill="none"/>
<path d="M469.94 150.88V167.68M467.94 150.88H469.94M469.94 166.65H471.94" stroke="#d4103a" stroke-width="1.5" fill="none"/>
<path d="M473.70 161.32V169.38M471.70 168.37H473.70M473.70 165.58H475.70" stroke="#050505" stroke-width="1.5" fill="none"/>
<path d="M477.46 166.80V177.90M475.46 168.28H477.46M477.46 168.76H479.46" stroke="#d4103a" stroke-width="1.5" fill="none"/>
<path d="M481.22 163.09V183.01M479.22 165.82H481.22M481.22 182.73H483.22" stroke="#d4103a" stroke-width="1.5" fill="none"/>
<path d="M484.98 191.66V207.48M482.98 192.12H484.98M484.98 207.20H486.98" stroke="#d4103a" stroke-width="1.5" fill="none"/>
<path d="M488.74 197.87V211.82M486.74 203.19H488.74M488.74 210.60H490.74" stroke="#d4103a" stroke-width="1.5" fill="none"/>
<path d="M492.50 204.29V216.56M490.50 213.84H492.50M492.50 204.66H494.50" stroke="#050505" stroke-width="1.5" fill="none"/>
<path d="M496.26 213.02V229.24M494.26 213.06H496.26M496.26 226.62H498.26" stroke="#d4103a" stroke-width="1.5" fill="none"/>
<path d="M500.02 220.22V238.76M498.02 223.48H500.02M500.02 226.28H502.02" stroke="#050505" stroke-width="1.5" fill="none"/>
<path d="M503.78 211.56V229.79M501.78 227.97H503.78M503.78 217.59H505.78" stroke="#050505" stroke-width="1.5" fill="none"/>
<path d="M507.54 206.12V226.16M505.54 207.82H507.54M507.54 221.60H509.54" stroke="#d4103a" stroke-width="1.5" fill="none"/>
<path d="M511.30 217.29V231.24M509.30 222.82H511.30M511.30 221.49H513.30" stroke="#050505" stroke-width="1.5" fill="none"/>
<path d="M515.06 223.99V246.52M513.06 227.93H515.06M515.06 241.96H517.06" stroke="#d4103a" stroke-width="1.5" fill="none"/>
<path d="M518.82 228.36V245.10M516.82 240.43H518.82M518.82 230.01H520.82" stroke="#050505" stroke-width="1.5" fill="none"/>
<path d="M522.58 228.84V243.20M520.58 231.55H522.58M522.58 231.94H524.58" stroke="#d4103a" stroke-width="1.5" fill="none"/>
<path d="M526.34 209.22V245.43M524.34 240.10H526.34M526.34 214.56H528.34" stroke="#050505" stroke-width="1.5" fill="none"/>
<path d="M530.10 203.20V223.07M528.10 221.27H530.10M530.10 205.27H532.10" stroke="#050505" stroke-width="1.5" fill="none"/>
<path d="M533.86 188.37V203.91M531.86 203.87H533.86M533.86 197.58H535.86" stroke="#050505" stroke-width="1.5" fill="none"/>
<path d="M537.62 190.67V201.97M535.62 194.75H537.62M537.62 191.24H539.62" stroke="#050505" stroke-width="1.5" fill="none"/>
<path d="M541.38 188.24V208.76M539.38 189.89H541.38M541.38 200.51H543.38" stroke="#d4103a" stroke-width="1.5" fill="none"/>
<path d="M545.14 191.19V213.37M543.14 196.82H545.14M545.14 207.96H547.14" stroke="#d4103a" stroke-width="1.5" fill="none"/>
<path d="M548.90 189.09V202.98M546.90 202.98H548.90M548.90 192.37H550.90" stroke="#050505" stroke-width="1.5" fill="none"/>
<path d="M552.66 185.63V204.62M550.66 202.00H552.66M552.66 192.51H554.66" stroke="#d4103a" stroke-width="1.5" fill="none"/>
<path d="M556.42 195.56V216.17M554.42 197.88H556.42M556.42 212.47H558.42" stroke="#d4103a" stroke-width="1.5" fill="none"/>
<path d="M560.18 203.94V227.95M558.18 210.15H560.18M560.18 225.08H562.18" stroke="#d4103a" stroke-width="1.5" fill="none"/>
<path d="M563.94 225.57V244.21M561.94 226.51H563.94M563.94 243.82H565.94" stroke="#d4103a" stroke-width="1.5" fill="none"/>
<path d="M567.70 232.76V256.10M565.70 248.64H567.70M567.70 246.31H569.70" stroke="#d4103a" stroke-width="1.5" fill="none"/>
<path d="M571.46 231.53V245.47M569.46 239.75H571.46M571.46 235.60H573.46" stroke="#050505" stroke-width="1.5" fill="none"/>
<path d="M575.22 240.92V258.86M573.22 240.92H575.22M575.22 256.97H577.22" stroke="#d4103a" stroke-width="1.5" fill="none"/>
<path d="M578.98 258.09V277.92M576.98 260.78H578.98M578.98 274.58H580.98" stroke="#d4103a" stroke-width="1.5" fill="none"/>
<path d="M582.74 267.63V286.59M580.74 268.98H582.74M582.74 281.70H584.74" stroke="#d4103a" stroke-width="1.5" fill="none"/>
<path d="M586.50 260.26V276.12M584.50 273.81H586.50M586.50 264.04H588.50" stroke="#050505" stroke-width="1.5" fill="none"/>
<path d="M590.26 253.87V268.91M588.26 262.44H590.26M590.26 254.49H592.26" stroke="#050505" stroke-width="1.5" fill="none"/>
<path d="M594.02 236.31V253.10M592.02 251.85H594.02M594.02 239.02H596.02" stroke="#050505" stroke-width="1.5" fill="none"/>
<path d="M597.78 210.72V228.45M595.78 228.45H597.78M597.78 211.38H599.78" stroke="#050505" stroke-width="1.5" fill="none"/>
<path d="M601.54 192.37V205.75M599.54 205.75H601.54M601.54 197.55H603.54" stroke="#050505" stroke-width="1.5" fill="none"/>
<g clip-path="url(#cM)">
<rect x="9.34" y="421.25" width="3.76" height="1.75" fill="#56a1cd" stroke="#2b709d" stroke-width="0.65"/>
<rect x="13.10" y="420.85" width="3.76" height="2.15" fill="#56a1cd" stroke="#2b709d" stroke-width="0.65"/>
<rect x="16.86" y="419.68" width="3.76" height="3.32" fill="#56a1cd" stroke="#2b709d" stroke-width="0.65"/>
<rect x="20.62" y="418.74" width="3.76" height="4.26" fill="#56a1cd" stroke="#2b709d" stroke-width="0.65"/>
<rect x="24.38" y="418.51" width="3.76" height="4.49" fill="#56a1cd" stroke="#2b709d" stroke-width="0.65"/>
<rect x="28.14" y="416.23" width="3.76" height="6.77" fill="#56a1cd" stroke="#2b709d" stroke-width="0.65"/>
<rect x="31.90" y="414.14" width="3.76" height="8.86" fill="#56a1cd" stroke="#2b709d" stroke-width="0.65"/>
<rect x="35.66" y="410.88" width="3.76" height="12.12" fill="#56a1cd" stroke="#2b709d" stroke-width="0.65"/>
<rect x="39.42" y="408.83" width="3.76" height="14.17" fill="#56a1cd" stroke="#2b709d" stroke-width="0.65"/>
<rect x="43.18" y="409.23" width="3.76" height="13.77" fill="#56a1cd" stroke="#2b709d" stroke-width="0.65"/>
<rect x="46.94" y="410.63" width="3.76" height="12.37" fill="#56a1cd" stroke="#2b709d" stroke-width="0.65"/>
<rect x="50.70" y="411.63" width="3.76" height="11.37" fill="#56a1cd" stroke="#2b709d" stroke-width="0.65"/>
<rect x="54.46" y="412.76" width="3.76" height="10.24" fill="#56a1cd" stroke="#2b709d" stroke-width="0.65"/>
<rect x="58.22" y="414.11" width="3.76" height="8.89" fill="#56a1cd" stroke="#2b709d" stroke-width="0.65"/>
<rect x="61.98" y="416.22" width="3.76" height="6.78" fill="#56a1cd" stroke="#2b709d" stroke-width="0.65"/>
<rect x="65.74" y="415.86" width="3.76" height="7.14" fill="#56a1cd" stroke="#2b709d" stroke-width="0.65"/>
<rect x="69.50" y="416.51" width="3.76" height="6.49" fill="#56a1cd" stroke="#2b709d" stroke-width="0.65"/>
<rect x="73.26" y="416.87" width="3.76" height="6.13" fill="#56a1cd" stroke="#2b709d" stroke-width="0.65"/>
<rect x="77.02" y="417.45" width="3.76" height="5.55" fill="#56a1cd" stroke="#2b709d" stroke-width="0.65"/>
<rect x="80.78" y="418.32" width="3.76" height="4.68" fill="#56a1cd" stroke="#2b709d" stroke-width="0.65"/>
<rect x="84.54" y="420.30" width="3.76" height="2.70" fill="#56a1cd" stroke="#2b709d" stroke-width="0.65"/>
<rect x="88.30" y="421.74" width="3.76" height="1.26" fill="#56a1cd" stroke="#2b709d" stroke-width="0.65"/>
<rect x="92.06" y="422.79" width="3.76" height="0.21" fill="#56a1cd" stroke="#2b709d" stroke-width="0.65"/>
<rect x="95.82" y="423.00" width="3.76" height="3.29" fill="#56a1cd" stroke="#2b709d" stroke-width="0.65"/>
<rect x="99.58" y="423.00" width="3.76" height="6.14" fill="#56a1cd" stroke="#2b709d" stroke-width="0.65"/>
<rect x="103.34" y="423.00" width="3.76" height="4.62" fill="#56a1cd" stroke="#2b709d" stroke-width="0.65"/>
<rect x="107.10" y="423.00" width="3.76" height="2.23" fill="#56a1cd" stroke="#2b709d" stroke-width="0.65"/>
<rect x="110.86" y="423.00" width="3.76" height="0.86" fill="#56a1cd" stroke="#2b709d" stroke-width="0.65"/>
<rect x="114.62" y="423.00" width="3.76" height="2.07" fill="#56a1cd" stroke="#2b709d" stroke-width="0.65"/>
<rect x="118.38" y="423.00" width="3.76" height="4.04" fill="#56a1cd" stroke="#2b709d" stroke-width="0.65"/>
<rect x="122.14" y="423.00" width="3.76" height="6.41" fill="#56a1cd" stroke="#2b709d" stroke-width="0.65"/>
<rect x="125.90" y="423.00" width="3.76" height="4.69" fill="#56a1cd" stroke="#2b709d" stroke-width="0.65"/>
<rect x="129.66" y="423.00" width="3.76" height="3.43" fill="#56a1cd" stroke="#2b709d" stroke-width="0.65"/>
<rect x="133.42" y="423.00" width="3.76" height="3.35" fill="#56a1cd" stroke="#2b709d" stroke-width="0.65"/>
<rect x="137.18" y="423.00" width="3.76" height="2.50" fill="#56a1cd" stroke="#2b709d" stroke-width="0.65"/>
<rect x="140.94" y="423.00" width="3.76" height="2.23" fill="#56a1cd" stroke="#2b709d" stroke-width="0.65"/>
<rect x="144.70" y="423.00" width="3.76" height="2.32" fill="#56a1cd" stroke="#2b709d" stroke-width="0.65"/>
<rect x="148.46" y="423.00" width="3.76" height="1.86" fill="#56a1cd" stroke="#2b709d" stroke-width="0.65"/>
<rect x="152.22" y="423.00" width="3.76" height="2.64" fill="#56a1cd" stroke="#2b709d" stroke-width="0.65"/>
<rect x="155.98" y="423.00" width="3.76" height="1.12" fill="#56a1cd" stroke="#2b709d" stroke-width="0.65"/>
<rect x="159.74" y="421.62" width="3.76" height="1.38" fill="#56a1cd" stroke="#2b709d" stroke-width="0.65"/>
<rect x="163.50" y="420.47" width="3.76" height="2.53" fill="#56a1cd" stroke="#2b709d" stroke-width="0.65"/>
<rect x="167.26" y="419.95" width="3.76" height="3.05" fill="#56a1cd" stroke="#2b709d" stroke-width="0.65"/>
<rect x="171.02" y="421.78" width="3.76" height="1.22" fill="#56a1cd" stroke="#2b709d" stroke-width="0.65"/>
<rect x="174.78" y="423.00" width="3.76" height="1.31" fill="#56a1cd" stroke="#2b709d" stroke-width="0.65"/>
<rect x="178.54" y="423.00" width="3.76" height="1.49" fill="#56a1cd" stroke="#2b709d" stroke-width="0.65"/>
<rect x="182.30" y="422.46" width="3.76" height="0.54" fill="#56a1cd" stroke="#2b709d" stroke-width="0.65"/>
<rect x="186.06" y="421.32" width="3.76" height="1.68" fill="#56a1cd" stroke="#2b709d" stroke-width="0.65"/>
<rect x="189.82" y="421.82" width="3.76" height="1.18" fill="#56a1cd" stroke="#2b709d" stroke-width="0.65"/>
<rect x="193.58" y="420.66" width="3.76" height="2.34" fill="#56a1cd" stroke="#2b709d" stroke-width="0.65"/>
<rect x="197.34" y="417.71" width="3.76" height="5.29" fill="#56a1cd" stroke="#2b709d" stroke-width="0.65"/>
<rect x="201.10" y="416.62" width="3.76" height="6.38" fill="#56a1cd" stroke="#2b709d" stroke-width="0.65"/>
<rect x="204.86" y="416.00" width="3.76" height="7.00" fill="#56a1cd" stroke="#2b709d" stroke-width="0.65"/>
<rect x="208.62" y="416.79" width="3.76" height="6.21" fill="#56a1cd" stroke="#2b709d" stroke-width="0.65"/>
<rect x="212.38" y="416.73" width="3.76" height="6.27" fill="#56a1cd" stroke="#2b709d" stroke-width="0.65"/>
<rect x="216.14" y="417.01" width="3.76" height="5.99" fill="#56a1cd" stroke="#2b709d" stroke-width="0.65"/>
<rect x="219.90" y="416.09" width="3.76" height="6.91" fill="#56a1cd" stroke="#2b709d" stroke-width="0.65"/>
<rect x="223.66" y="414.89" width="3.76" height="8.11" fill="#56a1cd" stroke="#2b709d" stroke-width="0.65"/>
<rect x="227.42" y="414.65" width="3.76" height="8.35" fill="#56a1cd" stroke="#2b709d" stroke-width="0.65"/>
<rect x="231.18" y="413.06" width="3.76" height="9.94" fill="#56a1cd" stroke="#2b709d" stroke-width="0.65"/>
<rect x="234.94" y="413.51" width="3.76" height="9.49" fill="#56a1cd" stroke="#2b709d" stroke-width="0.65"/>
<rect x="238.70" y="415.43" width="3.76" height="7.57" fill="#56a1cd" stroke="#2b709d" stroke-width="0.65"/>
<rect x="242.46" y="418.26" width="3.76" height="4.74" fill="#56a1cd" stroke="#2b709d" stroke-width="0.65"/>
<rect x="246.22" y="419.96" width="3.76" height="3.04" fill="#56a1cd" stroke="#2b709d" stroke-width="0.65"/>
<rect x="249.98" y="422.87" width="3.76" height="0.13" fill="#56a1cd" stroke="#2b709d" stroke-width="0.65"/>
<rect x="253.74" y="423.00" width="3.76" height="2.81" fill="#56a1cd" stroke="#2b709d" stroke-width="0.65"/>
<rect x="257.50" y="423.00" width="3.76" height="2.84" fill="#56a1cd" stroke="#2b709d" stroke-width="0.65"/>
<rect x="261.26" y="423.00" width="3.76" height="3.10" fill="#56a1cd" stroke="#2b709d" stroke-width="0.65"/>
<rect x="265.02" y="423.00" width="3.76" height="2.63" fill="#56a1cd" stroke="#2b709d" stroke-width="0.65"/>
<rect x="268.78" y="423.00" width="3.76" height="0.34" fill="#56a1cd" stroke="#2b709d" stroke-width="0.65"/>
<rect x="272.54" y="421.98" width="3.76" height="1.02" fill="#56a1cd" stroke="#2b709d" stroke-width="0.65"/>
<rect x="276.30" y="421.85" width="3.76" height="1.15" fill="#56a1cd" stroke="#2b709d" stroke-width="0.65"/>
<rect x="280.06" y="423.00" width="3.76" height="0.55" fill="#56a1cd" stroke="#2b709d" stroke-width="0.65"/>
<rect x="283.82" y="423.00" width="3.76" height="2.40" fill="#56a1cd" stroke="#2b709d" stroke-width="0.65"/>
<rect x="287.58" y="423.00" width="3.76" height="3.31" fill="#56a1cd" stroke="#2b709d" stroke-width="0.65"/>
<rect x="291.34" y="423.00" width="3.76" height="2.82" fill="#56a1cd" stroke="#2b709d" stroke-width="0.65"/>
<rect x="295.10" y="423.00" width="3.76" height="1.34" fill="#56a1cd" stroke="#2b709d" stroke-width="0.65"/>
<rect x="298.86" y="422.10" width="3.76" height="0.90" fill="#56a1cd" stroke="#2b709d" stroke-width="0.65"/>
<rect x="302.62" y="421.23" width="3.76" height="1.77" fill="#56a1cd" stroke="#2b709d" stroke-width="0.65"/>
<rect x="306.38" y="420.37" width="3.76" height="2.63" fill="#56a1cd" stroke="#2b709d" stroke-width="0.65"/>
<rect x="310.14" y="418.98" width="3.76" height="4.02" fill="#56a1cd" stroke="#2b709d" stroke-width="0.65"/>
<rect x="313.90" y="418.19" width="3.76" height="4.81" fill="#56a1cd" stroke="#2b709d" stroke-width="0.65"/>
<rect x="317.66" y="419.51" width="3.76" height="3.49" fill="#56a1cd" stroke="#2b709d" stroke-width="0.65"/>
<rect x="321.42" y="420.79" width="3.76" height="2.21" fill="#56a1cd" stroke="#2b709d" stroke-width="0.65"/>
<rect x="325.18" y="421.31" width="3.76" height="1.69" fill="#56a1cd" stroke="#2b709d" stroke-width="0.65"/>
<rect x="328.94" y="421.54" width="3.76" height="1.46" fill="#56a1cd" stroke="#2b709d" stroke-width="0.65"/>
<rect x="332.70" y="422.13" width="3.76" height="0.87" fill="#56a1cd" stroke="#2b709d" stroke-width="0.65"/>
<rect x="336.46" y="423.00" width="3.76" height="1.07" fill="#56a1cd" stroke="#2b709d" stroke-width="0.65"/>
<rect x="340.22" y="423.00" width="3.76" height="0.77" fill="#56a1cd" stroke="#2b709d" stroke-width="0.65"/>
<rect x="343.98" y="423.00" width="3.76" height="0.61" fill="#56a1cd" stroke="#2b709d" stroke-width="0.65"/>
<rect x="347.74" y="423.00" width="3.76" height="1.30" fill="#56a1cd" stroke="#2b709d" stroke-width="0.65"/>
<rect x="351.50" y="423.00" width="3.76" height="4.54" fill="#56a1cd" stroke="#2b709d" stroke-width="0.65"/>
<rect x="355.26" y="423.00" width="3.76" height="7.12" fill="#56a1cd" stroke="#2b709d" stroke-width="0.65"/>
<rect x="359.02" y="423.00" width="3.76" height="9.62" fill="#56a1cd" stroke="#2b709d" stroke-width="0.65"/>
<rect x="362.78" y="423.00" width="3.76" height="9.35" fill="#56a1cd" stroke="#2b709d" stroke-width="0.65"/>
<rect x="366.54" y="423.00" width="3.76" height="9.72" fill="#56a1cd" stroke="#2b709d" stroke-width="0.65"/>
<rect x="370.30" y="423.00" width="3.76" height="10.95" fill="#56a1cd" stroke="#2b709d" stroke-width="0.65"/>
<rect x="374.06" y="423.00" width="3.76" height="11.32" fill="#56a1cd" stroke="#2b709d" stroke-width="0.65"/>
<rect x="377.82" y="423.00" width="3.76" height="11.34" fill="#56a1cd" stroke="#2b709d" stroke-width="0.65"/>
<rect x="381.58" y="423.00" width="3.76" height="9.90" fill="#56a1cd" stroke="#2b709d" stroke-width="0.65"/>
<rect x="385.34" y="423.00" width="3.76" height="10.69" fill="#56a1cd" stroke="#2b709d" stroke-width="0.65"/>
<rect x="389.10" y="423.00" width="3.76" height="12.09" fill="#56a1cd" stroke="#2b709d" stroke-width="0.65"/>
<rect x="392.86" y="423.00" width="3.76" height="13.79" fill="#56a1cd" stroke="#2b709d" stroke-width="0.65"/>
<rect x="396.62" y="423.00" width="3.76" height="14.21" fill="#56a1cd" stroke="#2b709d" stroke-width="0.65"/>
<rect x="400.38" y="423.00" width="3.76" height="12.56" fill="#56a1cd" stroke="#2b709d" stroke-width="0.65"/>
<rect x="404.14" y="423.00" width="3.76" height="11.35" fill="#56a1cd" stroke="#2b709d" stroke-width="0.65"/>
<rect x="407.90" y="423.00" width="3.76" height="8.02" fill="#56a1cd" stroke="#2b709d" stroke-width="0.65"/>
<rect x="411.66" y="423.00" width="3.76" height="7.87" fill="#56a1cd" stroke="#2b709d" stroke-width="0.65"/>
<rect x="415.42" y="423.00" width="3.76" height="6.11" fill="#56a1cd" stroke="#2b709d" stroke-width="0.65"/>
<rect x="419.18" y="423.00" width="3.76" height="3.51" fill="#56a1cd" stroke="#2b709d" stroke-width="0.65"/>
<rect x="422.94" y="422.03" width="3.76" height="0.97" fill="#56a1cd" stroke="#2b709d" stroke-width="0.65"/>
<rect x="426.70" y="418.50" width="3.76" height="4.50" fill="#56a1cd" stroke="#2b709d" stroke-width="0.65"/>
<rect x="430.46" y="416.74" width="3.76" height="6.26" fill="#56a1cd" stroke="#2b709d" stroke-width="0.65"/>
<rect x="434.22" y="415.58" width="3.76" height="7.42" fill="#56a1cd" stroke="#2b709d" stroke-width="0.65"/>
<rect x="437.98" y="415.95" width="3.76" height="7.05" fill="#56a1cd" stroke="#2b709d" stroke-width="0.65"/>
<rect x="441.74" y="417.79" width="3.76" height="5.21" fill="#56a1cd" stroke="#2b709d" stroke-width="0.65"/>
<rect x="445.50" y="419.77" width="3.76" height="3.23" fill="#56a1cd" stroke="#2b709d" stroke-width="0.65"/>
<rect x="449.26" y="420.93" width="3.76" height="2.07" fill="#56a1cd" stroke="#2b709d" stroke-width="0.65"/>
<rect x="453.02" y="420.55" width="3.76" height="2.45" fill="#56a1cd" stroke="#2b709d" stroke-width="0.65"/>
<rect x="456.78" y="421.47" width="3.76" height="1.53" fill="#56a1cd" stroke="#2b709d" stroke-width="0.65"/>
<rect x="460.54" y="421.92" width="3.76" height="1.08" fill="#56a1cd" stroke="#2b709d" stroke-width="0.65"/>
<rect x="464.30" y="420.75" width="3.76" height="2.25" fill="#56a1cd" stroke="#2b709d" stroke-width="0.65"/>
<rect x="468.06" y="422.35" width="3.76" height="0.65" fill="#56a1cd" stroke="#2b709d" stroke-width="0.65"/>
<rect x="471.82" y="423.00" width="3.76" height="0.27" fill="#56a1cd" stroke="#2b709d" stroke-width="0.65"/>
<rect x="475.58" y="423.00" width="3.76" height="1.23" fill="#56a1cd" stroke="#2b709d" stroke-width="0.65"/>
<rect x="479.34" y="423.00" width="3.76" height="3.46" fill="#56a1cd" stroke="#2b709d" stroke-width="0.65"/>
<rect x="483.10" y="423.00" width="3.76" height="7.57" fill="#56a1cd" stroke="#2b709d" stroke-width="0.65"/>
<rect x="486.86" y="423.00" width="3.76" height="10.13" fill="#56a1cd" stroke="#2b709d" stroke-width="0.65"/>
<rect x="490.62" y="423.00" width="3.76" height="10.48" fill="#56a1cd" stroke="#2b709d" stroke-width="0.65"/>
<rect x="494.38" y="423.00" width="3.76" height="12.65" fill="#56a1cd" stroke="#2b709d" stroke-width="0.65"/>
<rect x="498.14" y="423.00" width="3.76" height="13.21" fill="#56a1cd" stroke="#2b709d" stroke-width="0.65"/>
<rect x="501.90" y="423.00" width="3.76" height="11.75" fill="#56a1cd" stroke="#2b709d" stroke-width="0.65"/>
<rect x="505.66" y="423.00" width="3.76" height="10.54" fill="#56a1cd" stroke="#2b709d" stroke-width="0.65"/>
<rect x="509.42" y="423.00" width="3.76" height="9.04" fill="#56a1cd" stroke="#2b709d" stroke-width="0.65"/>
<rect x="513.18" y="423.00" width="3.76" height="9.80" fill="#56a1cd" stroke="#2b709d" stroke-width="0.65"/>
<rect x="516.94" y="423.00" width="3.76" height="8.18" fill="#56a1cd" stroke="#2b709d" stroke-width="0.65"/>
<rect x="520.70" y="423.00" width="3.76" height="6.72" fill="#56a1cd" stroke="#2b709d" stroke-width="0.65"/>
<rect x="524.46" y="423.00" width="3.76" height="3.20" fill="#56a1cd" stroke="#2b709d" stroke-width="0.65"/>
<rect x="528.22" y="422.47" width="3.76" height="0.53" fill="#56a1cd" stroke="#2b709d" stroke-width="0.65"/>
<rect x="531.98" y="419.01" width="3.76" height="3.99" fill="#56a1cd" stroke="#2b709d" stroke-width="0.65"/>
<rect x="535.74" y="416.06" width="3.76" height="6.94" fill="#56a1cd" stroke="#2b709d" stroke-width="0.65"/>
<rect x="539.50" y="415.44" width="3.76" height="7.56" fill="#56a1cd" stroke="#2b709d" stroke-width="0.65"/>
<rect x="543.26" y="416.11" width="3.76" height="6.89" fill="#56a1cd" stroke="#2b709d" stroke-width="0.65"/>
<rect x="547.02" y="414.86" width="3.76" height="8.14" fill="#56a1cd" stroke="#2b709d" stroke-width="0.65"/>
<rect x="550.78" y="414.35" width="3.76" height="8.65" fill="#56a1cd" stroke="#2b709d" stroke-width="0.65"/>
<rect x="554.54" y="416.67" width="3.76" height="6.33" fill="#56a1cd" stroke="#2b709d" stroke-width="0.65"/>
<rect x="558.30" y="419.78" width="3.76" height="3.22" fill="#56a1cd" stroke="#2b709d" stroke-width="0.65"/>
<rect x="562.06" y="423.00" width="3.76" height="0.92" fill="#56a1cd" stroke="#2b709d" stroke-width="0.65"/>
<rect x="565.82" y="423.00" width="3.76" height="3.62" fill="#56a1cd" stroke="#2b709d" stroke-width="0.65"/>
<rect x="569.58" y="423.00" width="3.76" height="3.75" fill="#56a1cd" stroke="#2b709d" stroke-width="0.65"/>
<rect x="573.34" y="423.00" width="3.76" height="5.92" fill="#56a1cd" stroke="#2b709d" stroke-width="0.65"/>
<rect x="577.10" y="423.00" width="3.76" height="8.79" fill="#56a1cd" stroke="#2b709d" stroke-width="0.65"/>
<rect x="580.86" y="423.00" width="3.76" height="10.73" fill="#56a1cd" stroke="#2b709d" stroke-width="0.65"/>
<rect x="584.62" y="423.00" width="3.76" height="9.20" fill="#56a1cd" stroke="#2b709d" stroke-width="0.65"/>
<rect x="588.38" y="423.00" width="3.76" height="6.44" fill="#56a1cd" stroke="#2b709d" stroke-width="0.65"/>
<rect x="592.14" y="423.00" width="3.76" height="2.36" fill="#56a1cd" stroke="#2b709d" stroke-width="0.65"/>
<rect x="595.90" y="419.22" width="3.76" height="3.78" fill="#56a1cd" stroke="#2b709d" stroke-width="0.65"/>
<rect x="599.66" y="413.71" width="3.76" height="9.29" fill="#56a1cd" stroke="#2b709d" stroke-width="0.65"/>
<polyline points="11.22,438.08 14.98,437.54 18.74,436.71 22.50,435.65 26.26,434.52 30.02,432.83 33.78,430.61 37.54,427.58 41.30,424.04 45.06,420.60 48.82,417.51 52.58,414.66 56.34,412.10 60.10,409.88 63.86,408.19 67.62,406.40 71.38,404.78 75.14,403.25 78.90,401.86 82.66,400.69 86.42,400.01 90.18,399.70 93.94,399.65 97.70,400.47 101.46,402.00 105.22,403.16 108.98,403.72 112.74,403.93 116.50,404.45 120.26,405.46 124.02,407.06 127.78,408.23 131.54,409.09 135.30,409.93 139.06,410.55 142.82,411.11 146.58,411.69 150.34,412.15 154.10,412.81 157.86,413.09 161.62,412.75 165.38,412.12 169.14,411.35 172.90,411.05 176.66,411.38 180.42,411.75 184.18,411.61 187.94,411.19 191.70,410.90 195.46,410.31 199.22,408.99 202.98,407.40 206.74,405.65 210.50,404.10 214.26,402.53 218.02,401.03 221.78,399.30 225.54,397.28 229.30,395.19 233.06,392.71 236.82,390.33 240.58,388.44 244.34,387.25 248.10,386.50 251.86,386.46 255.62,387.16 259.38,387.88 263.14,388.65 266.90,389.31 270.66,389.39 274.42,389.14 278.18,388.85 281.94,388.98 285.70,389.58 289.46,390.41 293.22,391.12 296.98,391.45 300.74,391.23 304.50,390.78 308.26,390.13 312.02,389.12 315.78,387.92 319.54,387.05 323.30,386.49 327.06,386.07 330.82,385.71 334.58,385.49 338.34,385.76 342.10,385.95 345.86,386.10 349.62,386.43 353.38,387.56 357.14,389.34 360.90,391.75 364.66,394.08 368.42,396.51 372.18,399.25 375.94,402.08 379.70,404.92 383.46,407.39 387.22,410.07 390.98,413.09 394.74,416.54 398.50,420.09 402.26,423.23 406.02,426.07 409.78,428.07 413.54,430.04 417.30,431.57 421.06,432.44 424.82,432.20 428.58,431.08 432.34,429.51 436.10,427.65 439.86,425.89 443.62,424.59 447.38,423.78 451.14,423.27 454.90,422.65 458.66,422.27 462.42,422.00 466.18,421.44 469.94,421.28 473.70,421.34 477.46,421.65 481.22,422.52 484.98,424.41 488.74,426.94 492.50,429.56 496.26,432.72 500.02,436.03 503.78,438.96 507.54,441.60 511.30,443.86 515.06,446.31 518.82,448.35 522.58,450.03 526.34,450.83 530.10,450.70 533.86,449.70 537.62,447.97 541.38,446.08 545.14,444.36 548.90,442.32 552.66,440.16 556.42,438.57 560.18,437.77 563.94,438.00 567.70,438.91 571.46,439.84 575.22,441.32 578.98,443.52 582.74,446.20 586.50,448.50 590.26,450.11 594.02,450.70 597.78,449.76 601.54,447.44" fill="none" stroke="#ff3c3c" stroke-width="0.9" stroke-linejoin="round"/>
<polyline points="11.22,436.33 14.98,435.39 18.74,433.39 22.50,431.39 26.26,430.03 30.02,426.06 33.78,421.75 37.54,415.47 41.30,409.87 45.06,406.83 48.82,405.14 52.58,403.29 56.34,401.86 60.10,400.99 63.86,401.41 67.62,399.26 71.38,398.28 75.14,397.11 78.90,396.31 82.66,396.01 86.42,397.32 90.18,398.45 93.94,399.43 97.70,403.75 101.46,408.14 105.22,407.77 108.98,405.95 112.74,404.79 116.50,406.51 120.26,409.50 124.02,413.46 127.78,412.92 131.54,412.52 135.30,413.27 139.06,413.05 142.82,413.34 146.58,414.00 150.34,414.02 154.10,415.45 157.86,414.21 161.62,411.37 165.38,409.58 169.14,408.30 172.90,409.83 176.66,412.69 180.42,413.24 184.18,411.08 187.94,409.51 191.70,409.72 195.46,407.98 199.22,403.71 202.98,401.01 206.74,398.65 210.50,397.89 214.26,396.26 218.02,395.04 221.78,392.40 225.54,389.17 229.30,386.84 233.06,382.77 236.82,380.84 240.58,380.87 244.34,382.52 248.10,383.46 251.86,386.33 255.62,389.97 259.38,390.72 263.14,391.75 266.90,391.93 270.66,389.73 274.42,388.12 278.18,387.70 281.94,389.53 285.70,391.98 289.46,393.73 293.22,393.94 296.98,392.79 300.74,390.33 304.50,389.01 308.26,387.49 312.02,385.10 315.78,383.11 319.54,383.56 323.30,384.28 327.06,384.38 330.82,384.25 334.58,384.62 338.34,386.82 342.10,386.72 345.86,386.71 349.62,387.73 353.38,392.10 357.14,396.46 360.90,401.37 364.66,403.44 368.42,406.23 372.18,410.20 375.94,413.40 379.70,416.26 383.46,417.29 387.22,420.76 390.98,425.18 394.74,430.32 398.50,434.30 402.26,435.78 406.02,437.41 409.78,436.10 413.54,437.91 417.30,437.68 421.06,435.95 424.82,431.23 428.58,426.58 432.34,423.25 436.10,420.23 439.86,418.85 443.62,419.38 447.38,420.56 451.14,421.19 454.90,420.21 458.66,420.75 462.42,420.92 466.18,419.19 469.94,420.62 473.70,421.61 477.46,422.88 481.22,425.97 484.98,431.98 488.74,437.07 492.50,440.04 496.26,445.37 500.02,449.24 503.78,450.71 507.54,452.13 511.30,452.90 515.06,456.11 518.82,456.53 522.58,456.75 526.34,454.03 530.10,450.17 533.86,445.72 537.62,441.03 541.38,438.52 545.14,437.47 548.90,434.18 552.66,431.50 556.42,432.24 560.18,434.55 563.94,438.93 567.70,442.53 571.46,443.59 575.22,447.24 578.98,452.31 582.74,456.94 586.50,457.70 590.26,456.55 594.02,453.06 597.78,445.98 601.54,438.14" fill="none" stroke="#222" stroke-width="1.3" stroke-linejoin="round"/>
</g>
<rect x="12.5" y="21.5" width="594.0" height="342.80" fill="none" stroke="#c2c2c2" stroke-width="0.9"/>
<line x1="12.5" y1="110.2" x2="606.5" y2="110.2" stroke="#c2c2c2" stroke-width="0.9"/>
<rect x="12.5" y="375.0" width="594.0" height="88.00" fill="none" stroke="#c2c2c2" stroke-width="0.9"/>
<line x1="606.5" y1="362.85" x2="609.1" y2="362.85" stroke="#aaa" stroke-width="0.6"/>
<line x1="606.5" y1="359.06" x2="607.9" y2="359.06" stroke="#aaa" stroke-width="0.6"/>
<line x1="606.5" y1="355.28" x2="607.9" y2="355.28" stroke="#aaa" stroke-width="0.6"/>
<line x1="606.5" y1="351.51" x2="607.9" y2="351.51" stroke="#aaa" stroke-width="0.6"/>
<line x1="606.5" y1="347.75" x2="607.9" y2="347.75" stroke="#aaa" stroke-width="0.6"/>
<line x1="606.5" y1="344.00" x2="609.1" y2="344.00" stroke="#aaa" stroke-width="0.6"/>
<line x1="606.5" y1="340.26" x2="607.9" y2="340.26" stroke="#aaa" stroke-width="0.6"/>
<line x1="606.5" y1="336.53" x2="607.9" y2="336.53" stroke="#aaa" stroke-width="0.6"/>
<line x1="606.5" y1="332.81" x2="607.9" y2="332.81" stroke="#aaa" stroke-width="0.6"/>
<line x1="606.5" y1="329.10" x2="607.9" y2="329.10" stroke="#aaa" stroke-width="0.6"/>
<line x1="606.5" y1="325.39" x2="609.1" y2="325.39" stroke="#aaa" stroke-width="0.6"/>
<line x1="606.5" y1="321.70" x2="607.9" y2="321.70" stroke="#aaa" stroke-width="0.6"/>
<line x1="606.5" y1="318.01" x2="607.9" y2="318.01" stroke="#aaa" stroke-width="0.6"/>
<line x1="606.5" y1="314.34" x2="607.9" y2="314.34" stroke="#aaa" stroke-width="0.6"/>
<line x1="606.5" y1="310.67" x2="607.9" y2="310.67" stroke="#aaa" stroke-width="0.6"/>
<line x1="606.5" y1="307.01" x2="609.1" y2="307.01" stroke="#aaa" stroke-width="0.6"/>
<line x1="606.5" y1="303.36" x2="607.9" y2="303.36" stroke="#aaa" stroke-width="0.6"/>
<line x1="606.5" y1="299.72" x2="607.9" y2="299.72" stroke="#aaa" stroke-width="0.6"/>
<line x1="606.5" y1="296.09" x2="607.9" y2="296.09" stroke="#aaa" stroke-width="0.6"/>
<line x1="606.5" y1="292.47" x2="607.9" y2="292.47" stroke="#aaa" stroke-width="0.6"/>
<line x1="606.5" y1="288.86" x2="609.1" y2="288.86" stroke="#aaa" stroke-width="0.6"/>
<line x1="606.5" y1="285.25" x2="607.9" y2="285.25" stroke="#aaa" stroke-width="0.6"/>
<line x1="606.5" y1="281.66" x2="607.9" y2="281.66" stroke="#aaa" stroke-width="0.6"/>
<line x1="606.5" y1="278.07" x2="607.9" y2="278.07" stroke="#aaa" stroke-width="0.6"/>
<line x1="606.5" y1="274.49" x2="607.9" y2="274.49" stroke="#aaa" stroke-width="0.6"/>
<line x1="606.5" y1="270.92" x2="609.1" y2="270.92" stroke="#aaa" stroke-width="0.6"/>
<line x1="606.5" y1="267.36" x2="607.9" y2="267.36" stroke="#aaa" stroke-width="0.6"/>
<line x1="606.5" y1="263.81" x2="607.9" y2="263.81" stroke="#aaa" stroke-width="0.6"/>
<line x1="606.5" y1="260.26" x2="607.9" y2="260.26" stroke="#aaa" stroke-width="0.6"/>
<line x1="606.5" y1="256.73" x2="607.9" y2="256.73" stroke="#aaa" stroke-width="0.6"/>
<line x1="606.5" y1="253.20" x2="609.1" y2="253.20" stroke="#aaa" stroke-width="0.6"/>
<line x1="606.5" y1="249.68" x2="607.9" y2="249.68" stroke="#aaa" stroke-width="0.6"/>
<line x1="606.5" y1="246.17" x2="607.9" y2="246.17" stroke="#aaa" stroke-width="0.6"/>
<line x1="606.5" y1="242.67" x2="607.9" y2="242.67" stroke="#aaa" stroke-width="0.6"/>
<line x1="606.5" y1="239.18" x2="607.9" y2="239.18" stroke="#aaa" stroke-width="0.6"/>
<line x1="606.5" y1="235.69" x2="609.1" y2="235.69" stroke="#aaa" stroke-width="0.6"/>
<line x1="606.5" y1="232.21" x2="607.9" y2="232.21" stroke="#aaa" stroke-width="0.6"/>
<line x1="606.5" y1="228.75" x2="607.9" y2="228.75" stroke="#aaa" stroke-width="0.6"/>
<line x1="606.5" y1="225.28" x2="607.9" y2="225.28" stroke="#aaa" stroke-width="0.6"/>
<line x1="606.5" y1="221.83" x2="607.9" y2="221.83" stroke="#aaa" stroke-width="0.6"/>
<line x1="606.5" y1="218.39" x2="609.1" y2="218.39" stroke="#aaa" stroke-width="0.6"/>
<line x1="606.5" y1="214.95" x2="607.9" y2="214.95" stroke="#aaa" stroke-width="0.6"/>
<line x1="606.5" y1="211.52" x2="607.9" y2="211.52" stroke="#aaa" stroke-width="0.6"/>
<line x1="606.5" y1="208.10" x2="607.9" y2="208.10" stroke="#aaa" stroke-width="0.6"/>
<line x1="606.5" y1="204.69" x2="607.9" y2="204.69" stroke="#aaa" stroke-width="0.6"/>
<line x1="606.5" y1="201.28" x2="609.1" y2="201.28" stroke="#aaa" stroke-width="0.6"/>
<line x1="606.5" y1="197.88" x2="607.9" y2="197.88" stroke="#aaa" stroke-width="0.6"/>
<line x1="606.5" y1="194.49" x2="607.9" y2="194.49" stroke="#aaa" stroke-width="0.6"/>
<line x1="606.5" y1="191.11" x2="607.9" y2="191.11" stroke="#aaa" stroke-width="0.6"/>
<line x1="606.5" y1="187.74" x2="607.9" y2="187.74" stroke="#aaa" stroke-width="0.6"/>
<line x1="606.5" y1="184.37" x2="609.1" y2="184.37" stroke="#aaa" stroke-width="0.6"/>
<line x1="606.5" y1="181.01" x2="607.9" y2="181.01" stroke="#aaa" stroke-width="0.6"/>
<line x1="606.5" y1="177.66" x2="607.9" y2="177.66" stroke="#aaa" stroke-width="0.6"/>
<line x1="606.5" y1="174.32" x2="607.9" y2="174.32" stroke="#aaa" stroke-width="0.6"/>
<line x1="606.5" y1="170.98" x2="607.9" y2="170.98" stroke="#aaa" stroke-width="0.6"/>
<line x1="606.5" y1="167.65" x2="609.1" y2="167.65" stroke="#aaa" stroke-width="0.6"/>
<line x1="606.5" y1="164.33" x2="607.9" y2="164.33" stroke="#aaa" stroke-width="0.6"/>
<line x1="606.5" y1="161.02" x2="607.9" y2="161.02" stroke="#aaa" stroke-width="0.6"/>
<line x1="606.5" y1="157.71" x2="607.9" y2="157.71" stroke="#aaa" stroke-width="0.6"/>
<line x1="606.5" y1="154.41" x2="607.9" y2="154.41" stroke="#aaa" stroke-width="0.6"/>
<line x1="606.5" y1="151.12" x2="609.1" y2="151.12" stroke="#aaa" stroke-width="0.6"/>
<line x1="606.5" y1="147.84" x2="607.9" y2="147.84" stroke="#aaa" stroke-width="0.6"/>
<line x1="606.5" y1="144.56" x2="607.9" y2="144.56" stroke="#aaa" stroke-width="0.6"/>
<line x1="606.5" y1="141.29" x2="607.9" y2="141.29" stroke="#aaa" stroke-width="0.6"/>
<line x1="606.5" y1="138.03" x2="607.9" y2="138.03" stroke="#aaa" stroke-width="0.6"/>
<line x1="606.5" y1="134.77" x2="609.1" y2="134.77" stroke="#aaa" stroke-width="0.6"/>
<line x1="606.5" y1="131.52" x2="607.9" y2="131.52" stroke="#aaa" stroke-width="0.6"/>
<line x1="606.5" y1="128.28" x2="607.9" y2="128.28" stroke="#aaa" stroke-width="0.6"/>
<line x1="606.5" y1="125.05" x2="607.9" y2="125.05" stroke="#aaa" stroke-width="0.6"/>
<line x1="606.5" y1="121.82" x2="607.9" y2="121.82" stroke="#aaa" stroke-width="0.6"/>
<line x1="606.5" y1="118.60" x2="609.1" y2="118.60" stroke="#aaa" stroke-width="0.6"/>
<line x1="606.5" y1="115.39" x2="607.9" y2="115.39" stroke="#aaa" stroke-width="0.6"/>
<line x1="606.5" y1="104.90" x2="608.5" y2="104.90" stroke="#aaa" stroke-width="0.6"/>
<line x1="606.5" y1="97.10" x2="608.5" y2="97.10" stroke="#aaa" stroke-width="0.6"/>
<line x1="606.5" y1="89.30" x2="608.5" y2="89.30" stroke="#aaa" stroke-width="0.6"/>
<line x1="606.5" y1="81.50" x2="608.5" y2="81.50" stroke="#aaa" stroke-width="0.6"/>
<line x1="606.5" y1="73.70" x2="608.5" y2="73.70" stroke="#aaa" stroke-width="0.6"/>
<line x1="606.5" y1="65.90" x2="608.5" y2="65.90" stroke="#aaa" stroke-width="0.6"/>
<line x1="606.5" y1="58.10" x2="608.5" y2="58.10" stroke="#aaa" stroke-width="0.6"/>
<line x1="606.5" y1="50.30" x2="608.5" y2="50.30" stroke="#aaa" stroke-width="0.6"/>
<line x1="606.5" y1="42.50" x2="608.5" y2="42.50" stroke="#aaa" stroke-width="0.6"/>
<line x1="606.5" y1="34.70" x2="608.5" y2="34.70" stroke="#aaa" stroke-width="0.6"/>
<line x1="606.5" y1="26.90" x2="608.5" y2="26.90" stroke="#aaa" stroke-width="0.6"/>
<line x1="606.5" y1="460.68" x2="608.9" y2="460.68" stroke="#aaa" stroke-width="0.6"/>
<line x1="606.5" y1="454.40" x2="607.9" y2="454.40" stroke="#aaa" stroke-width="0.6"/>
<line x1="606.5" y1="448.12" x2="608.9" y2="448.12" stroke="#aaa" stroke-width="0.6"/>
<line x1="606.5" y1="441.84" x2="607.9" y2="441.84" stroke="#aaa" stroke-width="0.6"/>
<line x1="606.5" y1="435.56" x2="608.9" y2="435.56" stroke="#aaa" stroke-width="0.6"/>
<line x1="606.5" y1="429.28" x2="607.9" y2="429.28" stroke="#aaa" stroke-width="0.6"/>
<line x1="606.5" y1="423.00" x2="608.9" y2="423.00" stroke="#aaa" stroke-width="0.6"/>
<line x1="606.5" y1="416.72" x2="607.9" y2="416.72" stroke="#aaa" stroke-width="0.6"/>
<line x1="606.5" y1="410.44" x2="608.9" y2="410.44" stroke="#aaa" stroke-width="0.6"/>
<line x1="606.5" y1="404.16" x2="607.9" y2="404.16" stroke="#aaa" stroke-width="0.6"/>
<line x1="606.5" y1="397.88" x2="608.9" y2="397.88" stroke="#aaa" stroke-width="0.6"/>
<line x1="606.5" y1="391.60" x2="607.9" y2="391.60" stroke="#aaa" stroke-width="0.6"/>
<line x1="606.5" y1="385.32" x2="608.9" y2="385.32" stroke="#aaa" stroke-width="0.6"/>
<text x="608.80" y="36.70" font-family='"Liberation Sans", Arial, sans-serif' font-size="8" text-anchor="start" fill="#222" font-weight="normal" >90</text>
<text x="608.80" y="52.30" font-family='"Liberation Sans", Arial, sans-serif' font-size="8" text-anchor="start" fill="#222" font-weight="normal" >70</text>
<text x="608.80" y="67.90" font-family='"Liberation Sans", Arial, sans-serif' font-size="8" text-anchor="start" fill="#222" font-weight="normal" >50</text>
<text x="608.80" y="83.50" font-family='"Liberation Sans", Arial, sans-serif' font-size="8" text-anchor="start" fill="#222" font-weight="normal" >30</text>
<text x="608.80" y="99.10" font-family='"Liberation Sans", Arial, sans-serif' font-size="8" text-anchor="start" fill="#222" font-weight="normal" >10</text>
<text x="608.60" y="364.75" font-family='"Liberation Sans", Arial, sans-serif' font-size="8" text-anchor="start" fill="#222" font-weight="normal" >3900</text>
<text x="608.60" y="345.90" font-family='"Liberation Sans", Arial, sans-serif' font-size="8" text-anchor="start" fill="#222" font-weight="normal" >3950</text>
<text x="608.60" y="327.29" font-family='"Liberation Sans", Arial, sans-serif' font-size="8" text-anchor="start" fill="#222" font-weight="normal" >4000</text>
<text x="608.60" y="308.91" font-family='"Liberation Sans", Arial, sans-serif' font-size="8" text-anchor="start" fill="#222" font-weight="normal" >4050</text>
<text x="608.60" y="290.76" font-family='"Liberation Sans", Arial, sans-serif' font-size="8" text-anchor="start" fill="#222" font-weight="normal" >4100</text>
<text x="608.60" y="272.82" font-family='"Liberation Sans", Arial, sans-serif' font-size="8" text-anchor="start" fill="#222" font-weight="normal" >4150</text>
<text x="608.60" y="255.10" font-family='"Liberation Sans", Arial, sans-serif' font-size="8" text-anchor="start" fill="#222" font-weight="normal" >4200</text>
<text x="608.60" y="237.59" font-family='"Liberation Sans", Arial, sans-serif' font-size="8" text-anchor="start" fill="#222" font-weight="normal" >4250</text>
<text x="608.60" y="220.29" font-family='"Liberation Sans", Arial, sans-serif' font-size="8" text-anchor="start" fill="#222" font-weight="normal" >4300</text>
<text x="608.60" y="203.18" font-family='"Liberation Sans", Arial, sans-serif' font-size="8" text-anchor="start" fill="#222" font-weight="normal" >4350</text>
<text x="608.60" y="186.27" font-family='"Liberation Sans", Arial, sans-serif' font-size="8" text-anchor="start" fill="#222" font-weight="normal" >4400</text>
<text x="608.60" y="169.55" font-family='"Liberation Sans", Arial, sans-serif' font-size="8" text-anchor="start" fill="#222" font-weight="normal" >4450</text>
<text x="608.60" y="153.02" font-family='"Liberation Sans", Arial, sans-serif' font-size="8" text-anchor="start" fill="#222" font-weight="normal" >4500</text>
<text x="608.60" y="136.67" font-family='"Liberation Sans", Arial, sans-serif' font-size="8" text-anchor="start" fill="#222" font-weight="normal" >4550</text>
<text x="608.60" y="120.50" font-family='"Liberation Sans", Arial, sans-serif' font-size="8" text-anchor="start" fill="#222" font-weight="normal" >4600</text>
<text x="619.00" y="387.12" font-family='"Liberation Sans", Arial, sans-serif' font-size="8" text-anchor="end" fill="#222" font-weight="normal" >60</text>
<text x="619.00" y="399.68" font-family='"Liberation Sans", Arial, sans-serif' font-size="8" text-anchor="end" fill="#222" font-weight="normal" >40</text>
<text x="619.00" y="412.24" font-family='"Liberation Sans", Arial, sans-serif' font-size="8" text-anchor="end" fill="#222" font-weight="normal" >20</text>
<text x="619.00" y="424.80" font-family='"Liberation Sans", Arial, sans-serif' font-size="8" text-anchor="end" fill="#222" font-weight="normal" >0</text>
<text x="619.00" y="437.36" font-family='"Liberation Sans", Arial, sans-serif' font-size="8" text-anchor="end" fill="#222" font-weight="normal" >-20</text>
<text x="619.00" y="449.92" font-family='"Liberation Sans", Arial, sans-serif' font-size="8" text-anchor="end" fill="#222" font-weight="normal" >-40</text>
<text x="619.00" y="462.48" font-family='"Liberation Sans", Arial, sans-serif' font-size="8" text-anchor="end" fill="#222" font-weight="normal" >-60</text>
<text x="21.50" y="372.20" font-family='"Liberation Sans", Arial, sans-serif' font-size="8" text-anchor="middle" fill="#222" font-weight="normal" >27</text>
<text x="41.30" y="372.20" font-family='"Liberation Sans", Arial, sans-serif' font-size="8.2" text-anchor="middle" fill="#111" font-weight="bold" >Apr</text>
<text x="55.34" y="372.20" font-family='"Liberation Sans", Arial, sans-serif' font-size="8" text-anchor="middle" fill="#222" font-weight="normal" >10</text>
<text x="74.14" y="372.20" font-family='"Liberation Sans", Arial, sans-serif' font-size="8" text-anchor="middle" fill="#222" font-weight="normal" >17</text>
<text x="92.94" y="372.20" font-family='"Liberation Sans", Arial, sans-serif' font-size="8" text-anchor="middle" fill="#222" font-weight="normal" >24</text>
<text x="112.74" y="372.20" font-family='"Liberation Sans", Arial, sans-serif' font-size="8.2" text-anchor="middle" fill="#111" font-weight="bold" >May</text>
<text x="130.54" y="372.20" font-family='"Liberation Sans", Arial, sans-serif' font-size="8" text-anchor="middle" fill="#222" font-weight="normal" >8</text>
<text x="149.34" y="372.20" font-family='"Liberation Sans", Arial, sans-serif' font-size="8" text-anchor="middle" fill="#222" font-weight="normal" >15</text>
<text x="168.14" y="372.20" font-family='"Liberation Sans", Arial, sans-serif' font-size="8" text-anchor="middle" fill="#222" font-weight="normal" >22</text>
<text x="195.46" y="372.20" font-family='"Liberation Sans", Arial, sans-serif' font-size="8.2" text-anchor="middle" fill="#111" font-weight="bold" >Jun</text>
<text x="220.78" y="372.20" font-family='"Liberation Sans", Arial, sans-serif' font-size="8" text-anchor="middle" fill="#222" font-weight="normal" >12</text>
<text x="239.58" y="372.20" font-family='"Liberation Sans", Arial, sans-serif' font-size="8" text-anchor="middle" fill="#222" font-weight="normal" >20</text>
<text x="254.62" y="372.20" font-family='"Liberation Sans", Arial, sans-serif' font-size="8" text-anchor="middle" fill="#222" font-weight="normal" >26</text>
<text x="274.42" y="372.20" font-family='"Liberation Sans", Arial, sans-serif' font-size="8.2" text-anchor="middle" fill="#111" font-weight="bold" >Jul</text>
<text x="288.46" y="372.20" font-family='"Liberation Sans", Arial, sans-serif' font-size="8" text-anchor="middle" fill="#222" font-weight="normal" >10</text>
<text x="307.26" y="372.20" font-family='"Liberation Sans", Arial, sans-serif' font-size="8" text-anchor="middle" fill="#222" font-weight="normal" >17</text>
<text x="326.06" y="372.20" font-family='"Liberation Sans", Arial, sans-serif' font-size="8" text-anchor="middle" fill="#222" font-weight="normal" >24</text>
<text x="349.62" y="372.20" font-family='"Liberation Sans", Arial, sans-serif' font-size="8.2" text-anchor="middle" fill="#111" font-weight="bold" >Aug</text>
<text x="363.66" y="372.20" font-family='"Liberation Sans", Arial, sans-serif' font-size="8" text-anchor="middle" fill="#222" font-weight="normal" >7</text>
<text x="382.46" y="372.20" font-family='"Liberation Sans", Arial, sans-serif' font-size="8" text-anchor="middle" fill="#222" font-weight="normal" >14</text>
<text x="401.26" y="372.20" font-family='"Liberation Sans", Arial, sans-serif' font-size="8" text-anchor="middle" fill="#222" font-weight="normal" >21</text>
<text x="420.06" y="372.20" font-family='"Liberation Sans", Arial, sans-serif' font-size="8" text-anchor="middle" fill="#222" font-weight="normal" >28</text>
<text x="436.10" y="372.20" font-family='"Liberation Sans", Arial, sans-serif' font-size="8.2" text-anchor="middle" fill="#111" font-weight="bold" >Sep</text>
<text x="453.90" y="372.20" font-family='"Liberation Sans", Arial, sans-serif' font-size="8" text-anchor="middle" fill="#222" font-weight="normal" >11</text>
<text x="472.70" y="372.20" font-family='"Liberation Sans", Arial, sans-serif' font-size="8" text-anchor="middle" fill="#222" font-weight="normal" >18</text>
<text x="491.50" y="372.20" font-family='"Liberation Sans", Arial, sans-serif' font-size="8" text-anchor="middle" fill="#222" font-weight="normal" >25</text>
<text x="511.30" y="372.20" font-family='"Liberation Sans", Arial, sans-serif' font-size="8.2" text-anchor="middle" fill="#111" font-weight="bold" >Oct</text>
<text x="529.10" y="372.20" font-family='"Liberation Sans", Arial, sans-serif' font-size="8" text-anchor="middle" fill="#222" font-weight="normal" >9</text>
<text x="547.90" y="372.20" font-family='"Liberation Sans", Arial, sans-serif' font-size="8" text-anchor="middle" fill="#222" font-weight="normal" >16</text>
<text x="566.70" y="372.20" font-family='"Liberation Sans", Arial, sans-serif' font-size="8" text-anchor="middle" fill="#222" font-weight="normal" >23</text>
<text x="594.02" y="372.20" font-family='"Liberation Sans", Arial, sans-serif' font-size="8.2" text-anchor="middle" fill="#111" font-weight="bold" >Nov</text>
<text x="21.50" y="471.40" font-family='"Liberation Sans", Arial, sans-serif' font-size="8" text-anchor="middle" fill="#222" font-weight="normal" >27</text>
<text x="41.30" y="471.40" font-family='"Liberation Sans", Arial, sans-serif' font-size="8.2" text-anchor="middle" fill="#111" font-weight="bold" >Apr</text>
<text x="55.34" y="471.40" font-family='"Liberation Sans", Arial, sans-serif' font-size="8" text-anchor="middle" fill="#222" font-weight="normal" >10</text>
<text x="74.14" y="471.40" font-family='"Liberation Sans", Arial, sans-serif' font-size="8" text-anchor="middle" fill="#222" font-weight="normal" >17</text>
<text x="92.94" y="471.40" font-family='"Liberation Sans", Arial, sans-serif' font-size="8" text-anchor="middle" fill="#222" font-weight="normal" >24</text>
<text x="112.74" y="471.40" font-family='"Liberation Sans", Arial, sans-serif' font-size="8.2" text-anchor="middle" fill="#111" font-weight="bold" >May</text>
<text x="130.54" y="471.40" font-family='"Liberation Sans", Arial, sans-serif' font-size="8" text-anchor="middle" fill="#222" font-weight="normal" >8</text>
<text x="149.34" y="471.40" font-family='"Liberation Sans", Arial, sans-serif' font-size="8" text-anchor="middle" fill="#222" font-weight="normal" >15</text>
<text x="168.14" y="471.40" font-family='"Liberation Sans", Arial, sans-serif' font-size="8" text-anchor="middle" fill="#222" font-weight="normal" >22</text>
<text x="195.46" y="471.40" font-family='"Liberation Sans", Arial, sans-serif' font-size="8.2" text-anchor="middle" fill="#111" font-weight="bold" >Jun</text>
<text x="220.78" y="471.40" font-family='"Liberation Sans", Arial, sans-serif' font-size="8" text-anchor="middle" fill="#222" font-weight="normal" >12</text>
<text x="239.58" y="471.40" font-family='"Liberation Sans", Arial, sans-serif' font-size="8" text-anchor="middle" fill="#222" font-weight="normal" >20</text>
<text x="254.62" y="471.40" font-family='"Liberation Sans", Arial, sans-serif' font-size="8" text-anchor="middle" fill="#222" font-weight="normal" >26</text>
<text x="274.42" y="471.40" font-family='"Liberation Sans", Arial, sans-serif' font-size="8.2" text-anchor="middle" fill="#111" font-weight="bold" >Jul</text>
<text x="288.46" y="471.40" font-family='"Liberation Sans", Arial, sans-serif' font-size="8" text-anchor="middle" fill="#222" font-weight="normal" >10</text>
<text x="307.26" y="471.40" font-family='"Liberation Sans", Arial, sans-serif' font-size="8" text-anchor="middle" fill="#222" font-weight="normal" >17</text>
<text x="326.06" y="471.40" font-family='"Liberation Sans", Arial, sans-serif' font-size="8" text-anchor="middle" fill="#222" font-weight="normal" >24</text>
<text x="349.62" y="471.40" font-family='"Liberation Sans", Arial, sans-serif' font-size="8.2" text-anchor="middle" fill="#111" font-weight="bold" >Aug</text>
<text x="363.66" y="471.40" font-family='"Liberation Sans", Arial, sans-serif' font-size="8" text-anchor="middle" fill="#222" font-weight="normal" >7</text>
<text x="382.46" y="471.40" font-family='"Liberation Sans", Arial, sans-serif' font-size="8" text-anchor="middle" fill="#222" font-weight="normal" >14</text>
<text x="401.26" y="471.40" font-family='"Liberation Sans", Arial, sans-serif' font-size="8" text-anchor="middle" fill="#222" font-weight="normal" >21</text>
<text x="420.06" y="471.40" font-family='"Liberation Sans", Arial, sans-serif' font-size="8" text-anchor="middle" fill="#222" font-weight="normal" >28</text>
<text x="436.10" y="471.40" font-family='"Liberation Sans", Arial, sans-serif' font-size="8.2" text-anchor="middle" fill="#111" font-weight="bold" >Sep</text>
<text x="453.90" y="471.40" font-family='"Liberation Sans", Arial, sans-serif' font-size="8" text-anchor="middle" fill="#222" font-weight="normal" >11</text>
<text x="472.70" y="471.40" font-family='"Liberation Sans", Arial, sans-serif' font-size="8" text-anchor="middle" fill="#222" font-weight="normal" >18</text>
<text x="491.50" y="471.40" font-family='"Liberation Sans", Arial, sans-serif' font-size="8" text-anchor="middle" fill="#222" font-weight="normal" >25</text>
<text x="511.30" y="471.40" font-family='"Liberation Sans", Arial, sans-serif' font-size="8.2" text-anchor="middle" fill="#111" font-weight="bold" >Oct</text>
<text x="529.10" y="471.40" font-family='"Liberation Sans", Arial, sans-serif' font-size="8" text-anchor="middle" fill="#222" font-weight="normal" >9</text>
<text x="547.90" y="471.40" font-family='"Liberation Sans", Arial, sans-serif' font-size="8" text-anchor="middle" fill="#222" font-weight="normal" >16</text>
<text x="566.70" y="471.40" font-family='"Liberation Sans", Arial, sans-serif' font-size="8" text-anchor="middle" fill="#222" font-weight="normal" >23</text>
<text x="594.02" y="471.40" font-family='"Liberation Sans", Arial, sans-serif' font-size="8.2" text-anchor="middle" fill="#111" font-weight="bold" >Nov</text>
<line x1="14.98" y1="364.3" x2="14.98" y2="365.5" stroke="#aaa" stroke-width="0.5"/>
<line x1="18.74" y1="364.3" x2="18.74" y2="365.5" stroke="#aaa" stroke-width="0.5"/>
<line x1="22.50" y1="364.3" x2="22.50" y2="365.5" stroke="#aaa" stroke-width="0.5"/>
<line x1="26.26" y1="364.3" x2="26.26" y2="365.5" stroke="#aaa" stroke-width="0.5"/>
<line x1="30.02" y1="364.3" x2="30.02" y2="365.5" stroke="#aaa" stroke-width="0.5"/>
<line x1="33.78" y1="364.3" x2="33.78" y2="365.5" stroke="#aaa" stroke-width="0.5"/>
<line x1="37.54" y1="364.3" x2="37.54" y2="365.5" stroke="#aaa" stroke-width="0.5"/>
<line x1="41.30" y1="364.3" x2="41.30" y2="365.5" stroke="#aaa" stroke-width="0.5"/>
<line x1="45.06" y1="364.3" x2="45.06" y2="365.5" stroke="#aaa" stroke-width="0.5"/>
<line x1="48.82" y1="364.3" x2="48.82" y2="365.5" stroke="#aaa" stroke-width="0.5"/>
<line x1="52.58" y1="364.3" x2="52.58" y2="365.5" stroke="#aaa" stroke-width="0.5"/>
<line x1="56.34" y1="364.3" x2="56.34" y2="365.5" stroke="#aaa" stroke-width="0.5"/>
<line x1="60.10" y1="364.3" x2="60.10" y2="365.5" stroke="#aaa" stroke-width="0.5"/>
<line x1="63.86" y1="364.3" x2="63.86" y2="365.5" stroke="#aaa" stroke-width="0.5"/>
<line x1="67.62" y1="364.3" x2="67.62" y2="365.5" stroke="#aaa" stroke-width="0.5"/>
<line x1="71.38" y1="364.3" x2="71.38" y2="365.5" stroke="#aaa" stroke-width="0.5"/>
<line x1="75.14" y1="364.3" x2="75.14" y2="365.5" stroke="#aaa" stroke-width="0.5"/>
<line x1="78.90" y1="364.3" x2="78.90" y2="365.5" stroke="#aaa" stroke-width="0.5"/>
<line x1="82.66" y1="364.3" x2="82.66" y2="365.5" stroke="#aaa" stroke-width="0.5"/>
<line x1="86.42" y1="364.3" x2="86.42" y2="365.5" stroke="#aaa" stroke-width="0.5"/>
<line x1="90.18" y1="364.3" x2="90.18" y2="365.5" stroke="#aaa" stroke-width="0.5"/>
<line x1="93.94" y1="364.3" x2="93.94" y2="365.5" stroke="#aaa" stroke-width="0.5"/>
<line x1="97.70" y1="364.3" x2="97.70" y2="365.5" stroke="#aaa" stroke-width="0.5"/>
<line x1="101.46" y1="364.3" x2="101.46" y2="365.5" stroke="#aaa" stroke-width="0.5"/>
<line x1="105.22" y1="364.3" x2="105.22" y2="365.5" stroke="#aaa" stroke-width="0.5"/>
<line x1="108.98" y1="364.3" x2="108.98" y2="365.5" stroke="#aaa" stroke-width="0.5"/>
<line x1="112.74" y1="364.3" x2="112.74" y2="365.5" stroke="#aaa" stroke-width="0.5"/>
<line x1="116.50" y1="364.3" x2="116.50" y2="365.5" stroke="#aaa" stroke-width="0.5"/>
<line x1="120.26" y1="364.3" x2="120.26" y2="365.5" stroke="#aaa" stroke-width="0.5"/>
<line x1="124.02" y1="364.3" x2="124.02" y2="365.5" stroke="#aaa" stroke-width="0.5"/>
<line x1="127.78" y1="364.3" x2="127.78" y2="365.5" stroke="#aaa" stroke-width="0.5"/>
<line x1="131.54" y1="364.3" x2="131.54" y2="365.5" stroke="#aaa" stroke-width="0.5"/>
<line x1="135.30" y1="364.3" x2="135.30" y2="365.5" stroke="#aaa" stroke-width="0.5"/>
<line x1="139.06" y1="364.3" x2="139.06" y2="365.5" stroke="#aaa" stroke-width="0.5"/>
<line x1="142.82" y1="364.3" x2="142.82" y2="365.5" stroke="#aaa" stroke-width="0.5"/>
<line x1="146.58" y1="364.3" x2="146.58" y2="365.5" stroke="#aaa" stroke-width="0.5"/>
<line x1="150.34" y1="364.3" x2="150.34" y2="365.5" stroke="#aaa" stroke-width="0.5"/>
<line x1="154.10" y1="364.3" x2="154.10" y2="365.5" stroke="#aaa" stroke-width="0.5"/>
<line x1="157.86" y1="364.3" x2="157.86" y2="365.5" stroke="#aaa" stroke-width="0.5"/>
<line x1="161.62" y1="364.3" x2="161.62" y2="365.5" stroke="#aaa" stroke-width="0.5"/>
<line x1="165.38" y1="364.3" x2="165.38" y2="365.5" stroke="#aaa" stroke-width="0.5"/>
<line x1="169.14" y1="364.3" x2="169.14" y2="365.5" stroke="#aaa" stroke-width="0.5"/>
<line x1="172.90" y1="364.3" x2="172.90" y2="365.5" stroke="#aaa" stroke-width="0.5"/>
<line x1="176.66" y1="364.3" x2="176.66" y2="365.5" stroke="#aaa" stroke-width="0.5"/>
<line x1="180.42" y1="364.3" x2="180.42" y2="365.5" stroke="#aaa" stroke-width="0.5"/>
<line x1="184.18" y1="364.3" x2="184.18" y2="365.5" stroke="#aaa" stroke-width="0.5"/>
<line x1="187.94" y1="364.3" x2="187.94" y2="365.5" stroke="#aaa" stroke-width="0.5"/>
<line x1="191.70" y1="364.3" x2="191.70" y2="365.5" stroke="#aaa" stroke-width="0.5"/>
<line x1="195.46" y1="364.3" x2="195.46" y2="365.5" stroke="#aaa" stroke-width="0.5"/>
<line x1="199.22" y1="364.3" x2="199.22" y2="365.5" stroke="#aaa" stroke-width="0.5"/>
<line x1="202.98" y1="364.3" x2="202.98" y2="365.5" stroke="#aaa" stroke-width="0.5"/>
<line x1="206.74" y1="364.3" x2="206.74" y2="365.5" stroke="#aaa" stroke-width="0.5"/>
<line x1="210.50" y1="364.3" x2="210.50" y2="365.5" stroke="#aaa" stroke-width="0.5"/>
<line x1="214.26" y1="364.3" x2="214.26" y2="365.5" stroke="#aaa" stroke-width="0.5"/>
<line x1="218.02" y1="364.3" x2="218.02" y2="365.5" stroke="#aaa" stroke-width="0.5"/>
<line x1="221.78" y1="364.3" x2="221.78" y2="365.5" stroke="#aaa" stroke-width="0.5"/>
<line x1="225.54" y1="364.3" x2="225.54" y2="365.5" stroke="#aaa" stroke-width="0.5"/>
<line x1="229.30" y1="364.3" x2="229.30" y2="365.5" stroke="#aaa" stroke-width="0.5"/>
<line x1="233.06" y1="364.3" x2="233.06" y2="365.5" stroke="#aaa" stroke-width="0.5"/>
<line x1="236.82" y1="364.3" x2="236.82" y2="365.5" stroke="#aaa" stroke-width="0.5"/>
<line x1="240.58" y1="364.3" x2="240.58" y2="365.5" stroke="#aaa" stroke-width="0.5"/>
<line x1="244.34" y1="364.3" x2="244.34" y2="365.5" stroke="#aaa" stroke-width="0.5"/>
<line x1="248.10" y1="364.3" x2="248.10" y2="365.5" stroke="#aaa" stroke-width="0.5"/>
<line x1="251.86" y1="364.3" x2="251.86" y2="365.5" stroke="#aaa" stroke-width="0.5"/>
<line x1="255.62" y1="364.3" x2="255.62" y2="365.5" stroke="#aaa" stroke-width="0.5"/>
<line x1="259.38" y1="364.3" x2="259.38" y2="365.5" stroke="#aaa" stroke-width="0.5"/>
<line x1="263.14" y1="364.3" x2="263.14" y2="365.5" stroke="#aaa" stroke-width="0.5"/>
<line x1="266.90" y1="364.3" x2="266.90" y2="365.5" stroke="#aaa" stroke-width="0.5"/>
<line x1="270.66" y1="364.3" x2="270.66" y2="365.5" stroke="#aaa" stroke-width="0.5"/>
<line x1="274.42" y1="364.3" x2="274.42" y2="365.5" stroke="#aaa" stroke-width="0.5"/>
<line x1="278.18" y1="364.3" x2="278.18" y2="365.5" stroke="#aaa" stroke-width="0.5"/>
<line x1="281.94" y1="364.3" x2="281.94" y2="365.5" stroke="#aaa" stroke-width="0.5"/>
<line x1="285.70" y1="364.3" x2="285.70" y2="365.5" stroke="#aaa" stroke-width="0.5"/>
<line x1="289.46" y1="364.3" x2="289.46" y2="365.5" stroke="#aaa" stroke-width="0.5"/>
<line x1="293.22" y1="364.3" x2="293.22" y2="365.5" stroke="#aaa" stroke-width="0.5"/>
<line x1="296.98" y1="364.3" x2="296.98" y2="365.5" stroke="#aaa" stroke-width="0.5"/>
<line x1="300.74" y1="364.3" x2="300.74" y2="365.5" stroke="#aaa" stroke-width="0.5"/>
<line x1="304.50" y1="364.3" x2="304.50" y2="365.5" stroke="#aaa" stroke-width="0.5"/>
<line x1="308.26" y1="364.3" x2="308.26" y2="365.5" stroke="#aaa" stroke-width="0.5"/>
<line x1="312.02" y1="364.3" x2="312.02" y2="365.5" stroke="#aaa" stroke-width="0.5"/>
<line x1="315.78" y1="364.3" x2="315.78" y2="365.5" stroke="#aaa" stroke-width="0.5"/>
<line x1="319.54" y1="364.3" x2="319.54" y2="365.5" stroke="#aaa" stroke-width="0.5"/>
<line x1="323.30" y1="364.3" x2="323.30" y2="365.5" stroke="#aaa" stroke-width="0.5"/>
<line x1="327.06" y1="364.3" x2="327.06" y2="365.5" stroke="#aaa" stroke-width="0.5"/>
<line x1="330.82" y1="364.3" x2="330.82" y2="365.5" stroke="#aaa" stroke-width="0.5"/>
<line x1="334.58" y1="364.3" x2="334.58" y2="365.5" stroke="#aaa" stroke-width="0.5"/>
<line x1="338.34" y1="364.3" x2="338.34" y2="365.5" stroke="#aaa" stroke-width="0.5"/>
<line x1="342.10" y1="364.3" x2="342.10" y2="365.5" stroke="#aaa" stroke-width="0.5"/>
<line x1="345.86" y1="364.3" x2="345.86" y2="365.5" stroke="#aaa" stroke-width="0.5"/>
<line x1="349.62" y1="364.3" x2="349.62" y2="365.5" stroke="#aaa" stroke-width="0.5"/>
<line x1="353.38" y1="364.3" x2="353.38" y2="365.5" stroke="#aaa" stroke-width="0.5"/>
<line x1="357.14" y1="364.3" x2="357.14" y2="365.5" stroke="#aaa" stroke-width="0.5"/>
<line x1="360.90" y1="364.3" x2="360.90" y2="365.5" stroke="#aaa" stroke-width="0.5"/>
<line x1="364.66" y1="364.3" x2="364.66" y2="365.5" stroke="#aaa" stroke-width="0.5"/>
<line x1="368.42" y1="364.3" x2="368.42" y2="365.5" stroke="#aaa" stroke-width="0.5"/>
<line x1="372.18" y1="364.3" x2="372.18" y2="365.5" stroke="#aaa" stroke-width="0.5"/>
<line x1="375.94" y1="364.3" x2="375.94" y2="365.5" stroke="#aaa" stroke-width="0.5"/>
<line x1="379.70" y1="364.3" x2="379.70" y2="365.5" stroke="#aaa" stroke-width="0.5"/>
<line x1="383.46" y1="364.3" x2="383.46" y2="365.5" stroke="#aaa" stroke-width="0.5"/>
<line x1="387.22" y1="364.3" x2="387.22" y2="365.5" stroke="#aaa" stroke-width="0.5"/>
<line x1="390.98" y1="364.3" x2="390.98" y2="365.5" stroke="#aaa" stroke-width="0.5"/>
<line x1="394.74" y1="364.3" x2="394.74" y2="365.5" stroke="#aaa" stroke-width="0.5"/>
<line x1="398.50" y1="364.3" x2="398.50" y2="365.5" stroke="#aaa" stroke-width="0.5"/>
<line x1="402.26" y1="364.3" x2="402.26" y2="365.5" stroke="#aaa" stroke-width="0.5"/>
<line x1="406.02" y1="364.3" x2="406.02" y2="365.5" stroke="#aaa" stroke-width="0.5"/>
<line x1="409.78" y1="364.3" x2="409.78" y2="365.5" stroke="#aaa" stroke-width="0.5"/>
<line x1="413.54" y1="364.3" x2="413.54" y2="365.5" stroke="#aaa" stroke-width="0.5"/>
<line x1="417.30" y1="364.3" x2="417.30" y2="365.5" stroke="#aaa" stroke-width="0.5"/>
<line x1="421.06" y1="364.3" x2="421.06" y2="365.5" stroke="#aaa" stroke-width="0.5"/>
<line x1="424.82" y1="364.3" x2="424.82" y2="365.5" stroke="#aaa" stroke-width="0.5"/>
<line x1="428.58" y1="364.3" x2="428.58" y2="365.5" stroke="#aaa" stroke-width="0.5"/>
<line x1="432.34" y1="364.3" x2="432.34" y2="365.5" stroke="#aaa" stroke-width="0.5"/>
<line x1="436.10" y1="364.3" x2="436.10" y2="365.5" stroke="#aaa" stroke-width="0.5"/>
<line x1="439.86" y1="364.3" x2="439.86" y2="365.5" stroke="#aaa" stroke-width="0.5"/>
<line x1="443.62" y1="364.3" x2="443.62" y2="365.5" stroke="#aaa" stroke-width="0.5"/>
<line x1="447.38" y1="364.3" x2="447.38" y2="365.5" stroke="#aaa" stroke-width="0.5"/>
<line x1="451.14" y1="364.3" x2="451.14" y2="365.5" stroke="#aaa" stroke-width="0.5"/>
<line x1="454.90" y1="364.3" x2="454.90" y2="365.5" stroke="#aaa" stroke-width="0.5"/>
<line x1="458.66" y1="364.3" x2="458.66" y2="365.5" stroke="#aaa" stroke-width="0.5"/>
<line x1="462.42" y1="364.3" x2="462.42" y2="365.5" stroke="#aaa" stroke-width="0.5"/>
<line x1="466.18" y1="364.3" x2="466.18" y2="365.5" stroke="#aaa" stroke-width="0.5"/>
<line x1="469.94" y1="364.3" x2="469.94" y2="365.5" stroke="#aaa" stroke-width="0.5"/>
<line x1="473.70" y1="364.3" x2="473.70" y2="365.5" stroke="#aaa" stroke-width="0.5"/>
<line x1="477.46" y1="364.3" x2="477.46" y2="365.5" stroke="#aaa" stroke-width="0.5"/>
<line x1="481.22" y1="364.3" x2="481.22" y2="365.5" stroke="#aaa" stroke-width="0.5"/>
<line x1="484.98" y1="364.3" x2="484.98" y2="365.5" stroke="#aaa" stroke-width="0.5"/>
<line x1="488.74" y1="364.3" x2="488.74" y2="365.5" stroke="#aaa" stroke-width="0.5"/>
<line x1="492.50" y1="364.3" x2="492.50" y2="365.5" stroke="#aaa" stroke-width="0.5"/>
<line x1="496.26" y1="364.3" x2="496.26" y2="365.5" stroke="#aaa" stroke-width="0.5"/>
<line x1="500.02" y1="364.3" x2="500.02" y2="365.5" stroke="#aaa" stroke-width="0.5"/>
<line x1="503.78" y1="364.3" x2="503.78" y2="365.5" stroke="#aaa" stroke-width="0.5"/>
<line x1="507.54" y1="364.3" x2="507.54" y2="365.5" stroke="#aaa" stroke-width="0.5"/>
<line x1="511.30" y1="364.3" x2="511.30" y2="365.5" stroke="#aaa" stroke-width="0.5"/>
<line x1="515.06" y1="364.3" x2="515.06" y2="365.5" stroke="#aaa" stroke-width="0.5"/>
<line x1="518.82" y1="364.3" x2="518.82" y2="365.5" stroke="#aaa" stroke-width="0.5"/>
<line x1="522.58" y1="364.3" x2="522.58" y2="365.5" stroke="#aaa" stroke-width="0.5"/>
<line x1="526.34" y1="364.3" x2="526.34" y2="365.5" stroke="#aaa" stroke-width="0.5"/>
<line x1="530.10" y1="364.3" x2="530.10" y2="365.5" stroke="#aaa" stroke-width="0.5"/>
<line x1="533.86" y1="364.3" x2="533.86" y2="365.5" stroke="#aaa" stroke-width="0.5"/>
<line x1="537.62" y1="364.3" x2="537.62" y2="365.5" stroke="#aaa" stroke-width="0.5"/>
<line x1="541.38" y1="364.3" x2="541.38" y2="365.5" stroke="#aaa" stroke-width="0.5"/>
<line x1="545.14" y1="364.3" x2="545.14" y2="365.5" stroke="#aaa" stroke-width="0.5"/>
<line x1="548.90" y1="364.3" x2="548.90" y2="365.5" stroke="#aaa" stroke-width="0.5"/>
<line x1="552.66" y1="364.3" x2="552.66" y2="365.5" stroke="#aaa" stroke-width="0.5"/>
<line x1="556.42" y1="364.3" x2="556.42" y2="365.5" stroke="#aaa" stroke-width="0.5"/>
<line x1="560.18" y1="364.3" x2="560.18" y2="365.5" stroke="#aaa" stroke-width="0.5"/>
<line x1="563.94" y1="364.3" x2="563.94" y2="365.5" stroke="#aaa" stroke-width="0.5"/>
<line x1="567.70" y1="364.3" x2="567.70" y2="365.5" stroke="#aaa" stroke-width="0.5"/>
<line x1="571.46" y1="364.3" x2="571.46" y2="365.5" stroke="#aaa" stroke-width="0.5"/>
<line x1="575.22" y1="364.3" x2="575.22" y2="365.5" stroke="#aaa" stroke-width="0.5"/>
<line x1="578.98" y1="364.3" x2="578.98" y2="365.5" stroke="#aaa" stroke-width="0.5"/>
<line x1="582.74" y1="364.3" x2="582.74" y2="365.5" stroke="#aaa" stroke-width="0.5"/>
<line x1="586.50" y1="364.3" x2="586.50" y2="365.5" stroke="#aaa" stroke-width="0.5"/>
<line x1="590.26" y1="364.3" x2="590.26" y2="365.5" stroke="#aaa" stroke-width="0.5"/>
<line x1="594.02" y1="364.3" x2="594.02" y2="365.5" stroke="#aaa" stroke-width="0.5"/>
<line x1="597.78" y1="364.3" x2="597.78" y2="365.5" stroke="#aaa" stroke-width="0.5"/>
<line x1="601.54" y1="364.3" x2="601.54" y2="365.5" stroke="#aaa" stroke-width="0.5"/>
<line x1="14.98" y1="463.0" x2="14.98" y2="464.2" stroke="#aaa" stroke-width="0.5"/>
<line x1="18.74" y1="463.0" x2="18.74" y2="464.2" stroke="#aaa" stroke-width="0.5"/>
<line x1="22.50" y1="463.0" x2="22.50" y2="464.2" stroke="#aaa" stroke-width="0.5"/>
<line x1="26.26" y1="463.0" x2="26.26" y2="464.2" stroke="#aaa" stroke-width="0.5"/>
<line x1="30.02" y1="463.0" x2="30.02" y2="464.2" stroke="#aaa" stroke-width="0.5"/>
<line x1="33.78" y1="463.0" x2="33.78" y2="464.2" stroke="#aaa" stroke-width="0.5"/>
<line x1="37.54" y1="463.0" x2="37.54" y2="464.2" stroke="#aaa" stroke-width="0.5"/>
<line x1="41.30" y1="463.0" x2="41.30" y2="464.2" stroke="#aaa" stroke-width="0.5"/>
<line x1="45.06" y1="463.0" x2="45.06" y2="464.2" stroke="#aaa" stroke-width="0.5"/>
<line x1="48.82" y1="463.0" x2="48.82" y2="464.2" stroke="#aaa" stroke-width="0.5"/>
<line x1="52.58" y1="463.0" x2="52.58" y2="464.2" stroke="#aaa" stroke-width="0.5"/>
<line x1="56.34" y1="463.0" x2="56.34" y2="464.2" stroke="#aaa" stroke-width="0.5"/>
<line x1="60.10" y1="463.0" x2="60.10" y2="464.2" stroke="#aaa" stroke-width="0.5"/>
<line x1="63.86" y1="463.0" x2="63.86" y2="464.2" stroke="#aaa" stroke-width="0.5"/>
<line x1="67.62" y1="463.0" x2="67.62" y2="464.2" stroke="#aaa" stroke-width="0.5"/>
<line x1="71.38" y1="463.0" x2="71.38" y2="464.2" stroke="#aaa" stroke-width="0.5"/>
<line x1="75.14" y1="463.0" x2="75.14" y2="464.2" stroke="#aaa" stroke-width="0.5"/>
<line x1="78.90" y1="463.0" x2="78.90" y2="464.2" stroke="#aaa" stroke-width="0.5"/>
<line x1="82.66" y1="463.0" x2="82.66" y2="464.2" stroke="#aaa" stroke-width="0.5"/>
<line x1="86.42" y1="463.0" x2="86.42" y2="464.2" stroke="#aaa" stroke-width="0.5"/>
<line x1="90.18" y1="463.0" x2="90.18" y2="464.2" stroke="#aaa" stroke-width="0.5"/>
<line x1="93.94" y1="463.0" x2="93.94" y2="464.2" stroke="#aaa" stroke-width="0.5"/>
<line x1="97.70" y1="463.0" x2="97.70" y2="464.2" stroke="#aaa" stroke-width="0.5"/>
<line x1="101.46" y1="463.0" x2="101.46" y2="464.2" stroke="#aaa" stroke-width="0.5"/>
<line x1="105.22" y1="463.0" x2="105.22" y2="464.2" stroke="#aaa" stroke-width="0.5"/>
<line x1="108.98" y1="463.0" x2="108.98" y2="464.2" stroke="#aaa" stroke-width="0.5"/>
<line x1="112.74" y1="463.0" x2="112.74" y2="464.2" stroke="#aaa" stroke-width="0.5"/>
<line x1="116.50" y1="463.0" x2="116.50" y2="464.2" stroke="#aaa" stroke-width="0.5"/>
<line x1="120.26" y1="463.0" x2="120.26" y2="464.2" stroke="#aaa" stroke-width="0.5"/>
<line x1="124.02" y1="463.0" x2="124.02" y2="464.2" stroke="#aaa" stroke-width="0.5"/>
<line x1="127.78" y1="463.0" x2="127.78" y2="464.2" stroke="#aaa" stroke-width="0.5"/>
<line x1="131.54" y1="463.0" x2="131.54" y2="464.2" stroke="#aaa" stroke-width="0.5"/>
<line x1="135.30" y1="463.0" x2="135.30" y2="464.2" stroke="#aaa" stroke-width="0.5"/>
<line x1="139.06" y1="463.0" x2="139.06" y2="464.2" stroke="#aaa" stroke-width="0.5"/>
<line x1="142.82" y1="463.0" x2="142.82" y2="464.2" stroke="#aaa" stroke-width="0.5"/>
<line x1="146.58" y1="463.0" x2="146.58" y2="464.2" stroke="#aaa" stroke-width="0.5"/>
<line x1="150.34" y1="463.0" x2="150.34" y2="464.2" stroke="#aaa" stroke-width="0.5"/>
<line x1="154.10" y1="463.0" x2="154.10" y2="464.2" stroke="#aaa" stroke-width="0.5"/>
<line x1="157.86" y1="463.0" x2="157.86" y2="464.2" stroke="#aaa" stroke-width="0.5"/>
<line x1="161.62" y1="463.0" x2="161.62" y2="464.2" stroke="#aaa" stroke-width="0.5"/>
<line x1="165.38" y1="463.0" x2="165.38" y2="464.2" stroke="#aaa" stroke-width="0.5"/>
<line x1="169.14" y1="463.0" x2="169.14" y2="464.2" stroke="#aaa" stroke-width="0.5"/>
<line x1="172.90" y1="463.0" x2="172.90" y2="464.2" stroke="#aaa" stroke-width="0.5"/>
<line x1="176.66" y1="463.0" x2="176.66" y2="464.2" stroke="#aaa" stroke-width="0.5"/>
<line x1="180.42" y1="463.0" x2="180.42" y2="464.2" stroke="#aaa" stroke-width="0.5"/>
<line x1="184.18" y1="463.0" x2="184.18" y2="464.2" stroke="#aaa" stroke-width="0.5"/>
<line x1="187.94" y1="463.0" x2="187.94" y2="464.2" stroke="#aaa" stroke-width="0.5"/>
<line x1="191.70" y1="463.0" x2="191.70" y2="464.2" stroke="#aaa" stroke-width="0.5"/>
<line x1="195.46" y1="463.0" x2="195.46" y2="464.2" stroke="#aaa" stroke-width="0.5"/>
<line x1="199.22" y1="463.0" x2="199.22" y2="464.2" stroke="#aaa" stroke-width="0.5"/>
<line x1="202.98" y1="463.0" x2="202.98" y2="464.2" stroke="#aaa" stroke-width="0.5"/>
<line x1="206.74" y1="463.0" x2="206.74" y2="464.2" stroke="#aaa" stroke-width="0.5"/>
<line x1="210.50" y1="463.0" x2="210.50" y2="464.2" stroke="#aaa" stroke-width="0.5"/>
<line x1="214.26" y1="463.0" x2="214.26" y2="464.2" stroke="#aaa" stroke-width="0.5"/>
<line x1="218.02" y1="463.0" x2="218.02" y2="464.2" stroke="#aaa" stroke-width="0.5"/>
<line x1="221.78" y1="463.0" x2="221.78" y2="464.2" stroke="#aaa" stroke-width="0.5"/>
<line x1="225.54" y1="463.0" x2="225.54" y2="464.2" stroke="#aaa" stroke-width="0.5"/>
<line x1="229.30" y1="463.0" x2="229.30" y2="464.2" stroke="#aaa" stroke-width="0.5"/>
<line x1="233.06" y1="463.0" x2="233.06" y2="464.2" stroke="#aaa" stroke-width="0.5"/>
<line x1="236.82" y1="463.0" x2="236.82" y2="464.2" stroke="#aaa" stroke-width="0.5"/>
<line x1="240.58" y1="463.0" x2="240.58" y2="464.2" stroke="#aaa" stroke-width="0.5"/>
<line x1="244.34" y1="463.0" x2="244.34" y2="464.2" stroke="#aaa" stroke-width="0.5"/>
<line x1="248.10" y1="463.0" x2="248.10" y2="464.2" stroke="#aaa" stroke-width="0.5"/>
<line x1="251.86" y1="463.0" x2="251.86" y2="464.2" stroke="#aaa" stroke-width="0.5"/>
<line x1="255.62" y1="463.0" x2="255.62" y2="464.2" stroke="#aaa" stroke-width="0.5"/>
<line x1="259.38" y1="463.0" x2="259.38" y2="464.2" stroke="#aaa" stroke-width="0.5"/>
<line x1="263.14" y1="463.0" x2="263.14" y2="464.2" stroke="#aaa" stroke-width="0.5"/>
<line x1="266.90" y1="463.0" x2="266.90" y2="464.2" stroke="#aaa" stroke-width="0.5"/>
<line x1="270.66" y1="463.0" x2="270.66" y2="464.2" stroke="#aaa" stroke-width="0.5"/>
<line x1="274.42" y1="463.0" x2="274.42" y2="464.2" stroke="#aaa" stroke-width="0.5"/>
<line x1="278.18" y1="463.0" x2="278.18" y2="464.2" stroke="#aaa" stroke-width="0.5"/>
<line x1="281.94" y1="463.0" x2="281.94" y2="464.2" stroke="#aaa" stroke-width="0.5"/>
<line x1="285.70" y1="463.0" x2="285.70" y2="464.2" stroke="#aaa" stroke-width="0.5"/>
<line x1="289.46" y1="463.0" x2="289.46" y2="464.2" stroke="#aaa" stroke-width="0.5"/>
<line x1="293.22" y1="463.0" x2="293.22" y2="464.2" stroke="#aaa" stroke-width="0.5"/>
<line x1="296.98" y1="463.0" x2="296.98" y2="464.2" stroke="#aaa" stroke-width="0.5"/>
<line x1="300.74" y1="463.0" x2="300.74" y2="464.2" stroke="#aaa" stroke-width="0.5"/>
<line x1="304.50" y1="463.0" x2="304.50" y2="464.2" stroke="#aaa" stroke-width="0.5"/>
<line x1="308.26" y1="463.0" x2="308.26" y2="464.2" stroke="#aaa" stroke-width="0.5"/>
<line x1="312.02" y1="463.0" x2="312.02" y2="464.2" stroke="#aaa" stroke-width="0.5"/>
<line x1="315.78" y1="463.0" x2="315.78" y2="464.2" stroke="#aaa" stroke-width="0.5"/>
<line x1="319.54" y1="463.0" x2="319.54" y2="464.2" stroke="#aaa" stroke-width="0.5"/>
<line x1="323.30" y1="463.0" x2="323.30" y2="464.2" stroke="#aaa" stroke-width="0.5"/>
<line x1="327.06" y1="463.0" x2="327.06" y2="464.2" stroke="#aaa" stroke-width="0.5"/>
<line x1="330.82" y1="463.0" x2="330.82" y2="464.2" stroke="#aaa" stroke-width="0.5"/>
<line x1="334.58" y1="463.0" x2="334.58" y2="464.2" stroke="#aaa" stroke-width="0.5"/>
<line x1="338.34" y1="463.0" x2="338.34" y2="464.2" stroke="#aaa" stroke-width="0.5"/>
<line x1="342.10" y1="463.0" x2="342.10" y2="464.2" stroke="#aaa" stroke-width="0.5"/>
<line x1="345.86" y1="463.0" x2="345.86" y2="464.2" stroke="#aaa" stroke-width="0.5"/>
<line x1="349.62" y1="463.0" x2="349.62" y2="464.2" stroke="#aaa" stroke-width="0.5"/>
<line x1="353.38" y1="463.0" x2="353.38" y2="464.2" stroke="#aaa" stroke-width="0.5"/>
<line x1="357.14" y1="463.0" x2="357.14" y2="464.2" stroke="#aaa" stroke-width="0.5"/>
<line x1="360.90" y1="463.0" x2="360.90" y2="464.2" stroke="#aaa" stroke-width="0.5"/>
<line x1="364.66" y1="463.0" x2="364.66" y2="464.2" stroke="#aaa" stroke-width="0.5"/>
<line x1="368.42" y1="463.0" x2="368.42" y2="464.2" stroke="#aaa" stroke-width="0.5"/>
<line x1="372.18" y1="463.0" x2="372.18" y2="464.2" stroke="#aaa" stroke-width="0.5"/>
<line x1="375.94" y1="463.0" x2="375.94" y2="464.2" stroke="#aaa" stroke-width="0.5"/>
<line x1="379.70" y1="463.0" x2="379.70" y2="464.2" stroke="#aaa" stroke-width="0.5"/>
<line x1="383.46" y1="463.0" x2="383.46" y2="464.2" stroke="#aaa" stroke-width="0.5"/>
<line x1="387.22" y1="463.0" x2="387.22" y2="464.2" stroke="#aaa" stroke-width="0.5"/>
<line x1="390.98" y1="463.0" x2="390.98" y2="464.2" stroke="#aaa" stroke-width="0.5"/>
<line x1="394.74" y1="463.0" x2="394.74" y2="464.2" stroke="#aaa" stroke-width="0.5"/>
<line x1="398.50" y1="463.0" x2="398.50" y2="464.2" stroke="#aaa" stroke-width="0.5"/>
<line x1="402.26" y1="463.0" x2="402.26" y2="464.2" stroke="#aaa" stroke-width="0.5"/>
<line x1="406.02" y1="463.0" x2="406.02" y2="464.2" stroke="#aaa" stroke-width="0.5"/>
<line x1="409.78" y1="463.0" x2="409.78" y2="464.2" stroke="#aaa" stroke-width="0.5"/>
<line x1="413.54" y1="463.0" x2="413.54" y2="464.2" stroke="#aaa" stroke-width="0.5"/>
<line x1="417.30" y1="463.0" x2="417.30" y2="464.2" stroke="#aaa" stroke-width="0.5"/>
<line x1="421.06" y1="463.0" x2="421.06" y2="464.2" stroke="#aaa" stroke-width="0.5"/>
<line x1="424.82" y1="463.0" x2="424.82" y2="464.2" stroke="#aaa" stroke-width="0.5"/>
<line x1="428.58" y1="463.0" x2="428.58" y2="464.2" stroke="#aaa" stroke-width="0.5"/>
<line x1="432.34" y1="463.0" x2="432.34" y2="464.2" stroke="#aaa" stroke-width="0.5"/>
<line x1="436.10" y1="463.0" x2="436.10" y2="464.2" stroke="#aaa" stroke-width="0.5"/>
<line x1="439.86" y1="463.0" x2="439.86" y2="464.2" stroke="#aaa" stroke-width="0.5"/>
<line x1="443.62" y1="463.0" x2="443.62" y2="464.2" stroke="#aaa" stroke-width="0.5"/>
<line x1="447.38" y1="463.0" x2="447.38" y2="464.2" stroke="#aaa" stroke-width="0.5"/>
<line x1="451.14" y1="463.0" x2="451.14" y2="464.2" stroke="#aaa" stroke-width="0.5"/>
<line x1="454.90" y1="463.0" x2="454.90" y2="464.2" stroke="#aaa" stroke-width="0.5"/>
<line x1="458.66" y1="463.0" x2="458.66" y2="464.2" stroke="#aaa" stroke-width="0.5"/>
<line x1="462.42" y1="463.0" x2="462.42" y2="464.2" stroke="#aaa" stroke-width="0.5"/>
<line x1="466.18" y1="463.0" x2="466.18" y2="464.2" stroke="#aaa" stroke-width="0.5"/>
<line x1="469.94" y1="463.0" x2="469.94" y2="464.2" stroke="#aaa" stroke-width="0.5"/>
<line x1="473.70" y1="463.0" x2="473.70" y2="464.2" stroke="#aaa" stroke-width="0.5"/>
<line x1="477.46" y1="463.0" x2="477.46" y2="464.2" stroke="#aaa" stroke-width="0.5"/>
<line x1="481.22" y1="463.0" x2="481.22" y2="464.2" stroke="#aaa" stroke-width="0.5"/>
<line x1="484.98" y1="463.0" x2="484.98" y2="464.2" stroke="#aaa" stroke-width="0.5"/>
<line x1="488.74" y1="463.0" x2="488.74" y2="464.2" stroke="#aaa" stroke-width="0.5"/>
<line x1="492.50" y1="463.0" x2="492.50" y2="464.2" stroke="#aaa" stroke-width="0.5"/>
<line x1="496.26" y1="463.0" x2="496.26" y2="464.2" stroke="#aaa" stroke-width="0.5"/>
<line x1="500.02" y1="463.0" x2="500.02" y2="464.2" stroke="#aaa" stroke-width="0.5"/>
<line x1="503.78" y1="463.0" x2="503.78" y2="464.2" stroke="#aaa" stroke-width="0.5"/>
<line x1="507.54" y1="463.0" x2="507.54" y2="464.2" stroke="#aaa" stroke-width="0.5"/>
<line x1="511.30" y1="463.0" x2="511.30" y2="464.2" stroke="#aaa" stroke-width="0.5"/>
<line x1="515.06" y1="463.0" x2="515.06" y2="464.2" stroke="#aaa" stroke-width="0.5"/>
<line x1="518.82" y1="463.0" x2="518.82" y2="464.2" stroke="#aaa" stroke-width="0.5"/>
<line x1="522.58" y1="463.0" x2="522.58" y2="464.2" stroke="#aaa" stroke-width="0.5"/>
<line x1="526.34" y1="463.0" x2="526.34" y2="464.2" stroke="#aaa" stroke-width="0.5"/>
<line x1="530.10" y1="463.0" x2="530.10" y2="464.2" stroke="#aaa" stroke-width="0.5"/>
<line x1="533.86" y1="463.0" x2="533.86" y2="464.2" stroke="#aaa" stroke-width="0.5"/>
<line x1="537.62" y1="463.0" x2="537.62" y2="464.2" stroke="#aaa" stroke-width="0.5"/>
<line x1="541.38" y1="463.0" x2="541.38" y2="464.2" stroke="#aaa" stroke-width="0.5"/>
<line x1="545.14" y1="463.0" x2="545.14" y2="464.2" stroke="#aaa" stroke-width="0.5"/>
<line x1="548.90" y1="463.0" x2="548.90" y2="464.2" stroke="#aaa" stroke-width="0.5"/>
<line x1="552.66" y1="463.0" x2="552.66" y2="464.2" stroke="#aaa" stroke-width="0.5"/>
<line x1="556.42" y1="463.0" x2="556.42" y2="464.2" stroke="#aaa" stroke-width="0.5"/>
<line x1="560.18" y1="463.0" x2="560.18" y2="464.2" stroke="#aaa" stroke-width="0.5"/>
<line x1="563.94" y1="463.0" x2="563.94" y2="464.2" stroke="#aaa" stroke-width="0.5"/>
<line x1="567.70" y1="463.0" x2="567.70" y2="464.2" stroke="#aaa" stroke-width="0.5"/>
<line x1="571.46" y1="463.0" x2="571.46" y2="464.2" stroke="#aaa" stroke-width="0.5"/>
<line x1="575.22" y1="463.0" x2="575.22" y2="464.2" stroke="#aaa" stroke-width="0.5"/>
<line x1="578.98" y1="463.0" x2="578.98" y2="464.2" stroke="#aaa" stroke-width="0.5"/>
<line x1="582.74" y1="463.0" x2="582.74" y2="464.2" stroke="#aaa" stroke-width="0.5"/>
<line x1="586.50" y1="463.0" x2="586.50" y2="464.2" stroke="#aaa" stroke-width="0.5"/>
<line x1="590.26" y1="463.0" x2="590.26" y2="464.2" stroke="#aaa" stroke-width="0.5"/>
<line x1="594.02" y1="463.0" x2="594.02" y2="464.2" stroke="#aaa" stroke-width="0.5"/>
<line x1="597.78" y1="463.0" x2="597.78" y2="464.2" stroke="#aaa" stroke-width="0.5"/>
<line x1="601.54" y1="463.0" x2="601.54" y2="464.2" stroke="#aaa" stroke-width="0.5"/>
<text x="12.20" y="10.40" font-family='"Liberation Sans", Arial, sans-serif' font-size="9.7" text-anchor="start" fill="#000" font-weight="bold" textLength="25" lengthAdjust="spacingAndGlyphs" stroke="#000" stroke-width="0.3">$SPX</text>
<text x="40.00" y="10.00" font-family='"Liberation Sans", Arial, sans-serif' font-size="8.5" text-anchor="start" fill="#111" font-weight="normal" textLength="91.6" lengthAdjust="spacingAndGlyphs">S&amp;P 500 Large Cap Index</text>
<text x="136.60" y="10.00" font-family='"Liberation Sans", Arial, sans-serif' font-size="7" text-anchor="start" fill="#111" font-weight="normal" textLength="16.8" lengthAdjust="spacingAndGlyphs">INDX</text>
<text x="12.20" y="19.40" font-family='"Liberation Sans", Arial, sans-serif' font-size="7.7" text-anchor="start" fill="#111" font-weight="normal" textLength="39.4" lengthAdjust="spacingAndGlyphs">3-Nov-2023</text>
<text y="9.4" font-family='"Liberation Sans", Arial, sans-serif' font-size="8.2" fill="#4a4a4a" stroke="#4a4a4a" stroke-width="0.2"><tspan x="538.9" font-size="6.6" dy="-0.3">©</tspan> <tspan x="545.6" dy="0.3" textLength="60.4" lengthAdjust="spacingAndGlyphs">StockCharts.com</tspan></text>
<text x="238.90" y="19.30" font-family='"Liberation Sans", Arial, sans-serif' font-size="8.6" text-anchor="start" fill="#000" font-weight="bold" textLength="21.3" lengthAdjust="spacingAndGlyphs">Open</text>
<text x="263.80" y="19.30" font-family='"Liberation Sans", Arial, sans-serif' font-size="8.6" text-anchor="start" fill="#222" font-weight="normal" textLength="27.7" lengthAdjust="spacingAndGlyphs">4334.23</text>
<text x="296.70" y="19.30" font-family='"Liberation Sans", Arial, sans-serif' font-size="8.6" text-anchor="start" fill="#000" font-weight="bold" textLength="17.4" lengthAdjust="spacingAndGlyphs">High</text>
<text x="317.40" y="19.30" font-family='"Liberation Sans", Arial, sans-serif' font-size="8.6" text-anchor="start" fill="#222" font-weight="normal" textLength="28.3" lengthAdjust="spacingAndGlyphs">4373.62</text>
<text x="350.90" y="19.30" font-family='"Liberation Sans", Arial, sans-serif' font-size="8.6" text-anchor="start" fill="#000" font-weight="bold" textLength="17.1" lengthAdjust="spacingAndGlyphs">Low</text>
<text x="371.30" y="19.30" font-family='"Liberation Sans", Arial, sans-serif' font-size="8.6" text-anchor="start" fill="#222" font-weight="normal" textLength="28.6" lengthAdjust="spacingAndGlyphs">4334.23</text>
<text x="405.20" y="19.30" font-family='"Liberation Sans", Arial, sans-serif' font-size="8.6" text-anchor="start" fill="#000" font-weight="bold" textLength="23.4" lengthAdjust="spacingAndGlyphs">Close</text>
<text x="432.00" y="19.30" font-family='"Liberation Sans", Arial, sans-serif' font-size="8.6" text-anchor="start" fill="#222" font-weight="normal" textLength="29.1" lengthAdjust="spacingAndGlyphs">4358.34</text>
<text x="466.30" y="19.30" font-family='"Liberation Sans", Arial, sans-serif' font-size="8.6" text-anchor="start" fill="#000" font-weight="bold" textLength="29.8" lengthAdjust="spacingAndGlyphs">Volume</text>
<text x="499.80" y="19.30" font-family='"Liberation Sans", Arial, sans-serif' font-size="8.6" text-anchor="start" fill="#222" font-weight="normal" textLength="17.2" lengthAdjust="spacingAndGlyphs">2.7B</text>
<text x="521.40" y="19.30" font-family='"Liberation Sans", Arial, sans-serif' font-size="8.6" text-anchor="start" fill="#000" font-weight="bold" textLength="15.1" lengthAdjust="spacingAndGlyphs">Chg</text>
<text x="539.30" y="19.30" font-family='"Liberation Sans", Arial, sans-serif' font-size="8.6" text-anchor="start" fill="#222" font-weight="normal" textLength="59.6" lengthAdjust="spacingAndGlyphs">+40.56 (+0.94%)</text>
<path d="M600.8 18.6L603.4 15.5L606 18.6Z" fill="#2d6e2d"/>
<path d="M15.4 29.1L17.3 24.2L18.6 26.6L19.8 23.6L21.2 29.1Z" fill="#5a8a5a" stroke="#222" stroke-width="0.6"/>
<text x="23.10" y="29.20" font-family='"DejaVu Sans Mono", "Liberation Mono", monospace' font-size="7.5" text-anchor="start" fill="#111" font-weight="normal" textLength="54.3" lengthAdjust="spacingAndGlyphs">RSI(5) 78.42</text>
<path d="M15.6 113V117.5M17.2 112.5V119M18.8 113.5V117M15 115.5H16M17.2 116.5H18.2M18.8 114.5H19.6" stroke="#111" stroke-width="0.8" fill="none"/>
<text x="24.10" y="118.40" font-family='"DejaVu Sans Mono", "Liberation Mono", monospace' font-size="7.5" text-anchor="start" fill="#111" font-weight="normal" textLength="88.2" lengthAdjust="spacingAndGlyphs">$SPX (Daily) 4358.34</text>
<line x1="14.7" y1="123.2" x2="20.3" y2="123.2" stroke="#2b2ba0" stroke-width="1.5"/>
<text x="21.60" y="125.70" font-family='"Liberation Sans", Arial, sans-serif' font-size="7.5" text-anchor="start" fill="#2b2ba0" font-weight="normal" textLength="52.2" lengthAdjust="spacingAndGlyphs">MA(13) 4230.57</text>
<line x1="14.7" y1="132" x2="20.3" y2="132" stroke="#d4143c" stroke-width="1.5"/>
<text x="21.60" y="134.50" font-family='"Liberation Sans", Arial, sans-serif' font-size="7.5" text-anchor="start" fill="#d4143c" font-weight="normal" textLength="52.2" lengthAdjust="spacingAndGlyphs">MA(34) 4288.54</text>
<line x1="14.5" y1="380.2" x2="20.5" y2="380.2" stroke="#111" stroke-width="1.6"/>
<text x="23.80" y="382.60" font-family='"DejaVu Sans Mono", "Liberation Mono", monospace' font-size="7.6" text-anchor="start" fill="#111" font-weight="normal" textLength="96.3" lengthAdjust="spacingAndGlyphs">MACD(12,26,9) -24.110</text>
<text x="120.10" y="382.60" font-family='"DejaVu Sans Mono", "Liberation Mono", monospace' font-size="7.6" text-anchor="start" fill="#f03a3a" font-weight="normal" textLength="41.3" lengthAdjust="spacingAndGlyphs">, -38.910</text>
<text x="161.40" y="382.60" font-family='"DejaVu Sans Mono", "Liberation Mono", monospace' font-size="7.6" text-anchor="start" fill="#4b9bc8" font-weight="normal" textLength="35.6" lengthAdjust="spacingAndGlyphs">, 14.800</text>
<path d="M604.6 43.73L607.4 39.93H629.6V47.53H607.4Z" fill="#fff" stroke="#222" stroke-width="1" stroke-linejoin="round"/>
<text x="608.20" y="46.53" font-family='"Liberation Sans", Arial, sans-serif' font-size="8" text-anchor="start" fill="#111" font-weight="normal" textLength="20.8" lengthAdjust="spacingAndGlyphs">78.42</text>
<path d="M604.6 197.75L607.6 193.75H638.4V201.75H607.6Z" fill="#fff" stroke="#111" stroke-width="1.2" stroke-linejoin="miter"/>
<text x="608.40" y="200.55" font-family='"Liberation Sans", Arial, sans-serif' font-size="8" text-anchor="start" fill="#111" font-weight="bold" textLength="28.4" lengthAdjust="spacingAndGlyphs">4358.34</text>
<path d="M604.6 221.63L607.6 217.63H638.4V225.63H607.6Z" fill="#fff" stroke="#e0486a" stroke-width="1.25" stroke-linejoin="miter"/>
<text x="608.40" y="224.43" font-family='"Liberation Sans", Arial, sans-serif' font-size="8" text-anchor="start" fill="#111" font-weight="normal" textLength="28.4" lengthAdjust="spacingAndGlyphs">4288.54</text>
<path d="M604.6 241.77L607.6 237.77H638.4V245.77H607.6Z" fill="#fff" stroke="#3434a8" stroke-width="1.25" stroke-linejoin="miter"/>
<text x="608.40" y="244.57" font-family='"Liberation Sans", Arial, sans-serif' font-size="8" text-anchor="start" fill="#111" font-weight="normal" textLength="28.4" lengthAdjust="spacingAndGlyphs">4230.57</text>
<path d="M604.4 414.01L607.0 410.21H633.8V417.81H607.0Z" fill="#fff" stroke="#4b9bc8" stroke-width="1" stroke-linejoin="round"/>
<text x="608.00" y="416.81" font-family='"Liberation Sans", Arial, sans-serif' font-size="8" text-anchor="start" fill="#111" font-weight="normal" textLength="24.2" lengthAdjust="spacingAndGlyphs">14.800</text>
<path d="M604.4 438.14L607.0 434.34H637.0V441.94H607.0Z" fill="#fff" stroke="#222" stroke-width="1" stroke-linejoin="round"/>
<text x="608.00" y="440.94" font-family='"Liberation Sans", Arial, sans-serif' font-size="8" text-anchor="start" fill="#111" font-weight="normal" textLength="27.4" lengthAdjust="spacingAndGlyphs">-24.110</text>
<path d="M604.4 447.94L607.0 444.14H637.0V451.74H607.0Z" fill="#fff" stroke="#f03a3a" stroke-width="1" stroke-linejoin="round"/>
<text x="608.00" y="450.74" font-family='"Liberation Sans", Arial, sans-serif' font-size="8" text-anchor="start" fill="#111" font-weight="normal" textLength="27.4" lengthAdjust="spacingAndGlyphs">-38.910</text>
<line x1="231.5" y1="31.5" x2="276.3" y2="42.6" stroke="#ff1010" stroke-width="1.6" stroke-linecap="butt"/>
<line x1="316.4" y1="34.0" x2="339.5" y2="45.1" stroke="#ff1010" stroke-width="1.6" stroke-linecap="butt"/>
<line x1="428.1" y1="44.6" x2="434.6" y2="46.3" stroke="#ff1010" stroke-width="1.6" stroke-linecap="butt"/>
<line x1="537.3" y1="43.8" x2="552.9" y2="52.6" stroke="#ff1010" stroke-width="1.6" stroke-linecap="butt"/>
<line x1="359.5" y1="89.7" x2="378.3" y2="84.2" stroke="#0f8c0f" stroke-width="1.6" stroke-linecap="butt"/>
<line x1="487.7" y1="96.4" x2="513.3" y2="93.7" stroke="#0f8c0f" stroke-width="1.6" stroke-linecap="butt"/>
<line x1="43.1" y1="406.3" x2="312.6" y2="415.9" stroke="#ff1010" stroke-width="1.6" stroke-linecap="butt"/>
<line x1="124.3" y1="432.4" x2="180.2" y2="427.6" stroke="#0f8c0f" stroke-width="1.6" stroke-linecap="butt"/>
<circle cx="92.7" cy="399.6" r="6.5" fill="none" stroke="#f00a0a" stroke-width="2.4"/>
<circle cx="173.1" cy="412.1" r="6.5" fill="none" stroke="#f00a0a" stroke-width="2.4"/>
<circle cx="249.6" cy="385.8" r="6.5" fill="none" stroke="#f00a0a" stroke-width="2.4"/>
<circle cx="278.8" cy="389" r="6.5" fill="none" stroke="#f00a0a" stroke-width="2.4"/>
<circle cx="338.9" cy="386.3" r="6.5" fill="none" stroke="#f00a0a" stroke-width="2.4"/>
<circle cx="471.4" cy="422.1" r="6.5" fill="none" stroke="#f00a0a" stroke-width="2.4"/>
<circle cx="562.1" cy="438.9" r="6.5" fill="none" stroke="#f00a0a" stroke-width="2.4"/>
<circle cx="157.6" cy="414.1" r="6.5" fill="none" stroke="#0f820f" stroke-width="2.4"/>
<circle cx="182.2" cy="413.4" r="6.5" fill="none" stroke="#0f820f" stroke-width="2.4"/>
<circle cx="268.9" cy="389" r="6.5" fill="none" stroke="#0f820f" stroke-width="2.4"/>
<circle cx="298.8" cy="392.6" r="6.5" fill="none" stroke="#0f820f" stroke-width="2.4"/>
<circle cx="422.6" cy="432.7" r="6.5" fill="none" stroke="#0f820f" stroke-width="2.4"/>
<circle cx="528.3" cy="451.4" r="6.5" fill="none" stroke="#0f820f" stroke-width="2.4"/>
<circle cx="593.9" cy="449.7" r="6.5" fill="none" stroke="#0f820f" stroke-width="2.4"/>
<rect x="73.95" y="240.45" width="7.30" height="9.5" fill="#fff"/>
<text x="77.60" y="248.30" font-family='"Liberation Sans", Arial, sans-serif' font-size="8.6" font-weight="bold" text-anchor="middle" fill="#1f3a7a" >A</text>
<rect x="70.32" y="251.25" width="14.55" height="9.5" fill="#fff"/>
<text x="77.60" y="258.07" font-family='"Liberation Sans", Arial, sans-serif' font-size="7.7" font-weight="bold" text-anchor="middle" fill="#1f8a1f" >[c]</text>
<rect x="105.62" y="245.45" width="14.55" height="9.5" fill="#fff"/>
<text x="112.90" y="252.27" font-family='"Liberation Sans", Arial, sans-serif' font-size="7.7" font-weight="bold" text-anchor="middle" fill="#1f8a1f" >[b]</text>
<rect x="92.52" y="306.65" width="14.55" height="9.5" fill="#fff"/>
<text x="99.80" y="313.47" font-family='"Liberation Sans", Arial, sans-serif' font-size="7.7" font-weight="bold" text-anchor="middle" fill="#1f8a1f" >[a]</text>
<rect x="115.72" y="303.65" width="14.55" height="9.5" fill="#fff"/>
<text x="123.00" y="310.47" font-family='"Liberation Sans", Arial, sans-serif' font-size="7.7" font-weight="bold" text-anchor="middle" fill="#1f8a1f" >[c]</text>
<rect x="119.35" y="314.25" width="7.30" height="9.5" fill="#fff"/>
<text x="123.00" y="322.10" font-family='"Liberation Sans", Arial, sans-serif' font-size="8.6" font-weight="bold" text-anchor="middle" fill="#1f3a7a" >B</text>
<rect x="156.03" y="236.65" width="14.55" height="9.5" fill="#fff"/>
<text x="163.30" y="243.47" font-family='"Liberation Sans", Arial, sans-serif' font-size="7.7" font-weight="bold" text-anchor="middle" fill="#1f8a1f" >[i]</text>
<rect x="169.90" y="287.75" width="18.40" height="9.5" fill="#fff"/>
<text x="179.10" y="294.57" font-family='"Liberation Sans", Arial, sans-serif' font-size="7.7" font-weight="bold" text-anchor="middle" fill="#1f8a1f" >[ii]</text>
<rect x="225.38" y="153.65" width="22.25" height="9.5" fill="#fff"/>
<text x="236.50" y="160.47" font-family='"Liberation Sans", Arial, sans-serif' font-size="7.7" font-weight="bold" text-anchor="middle" fill="#1f8a1f" >[iii]</text>
<rect x="248.20" y="210.35" width="18.40" height="9.5" fill="#fff"/>
<text x="257.40" y="217.17" font-family='"Liberation Sans", Arial, sans-serif' font-size="7.7" font-weight="bold" text-anchor="middle" fill="#1f8a1f" >[iv]</text>
<rect x="327.70" y="80.00" width="17.00" height="12" fill="#fff"/>
<text x="336.20" y="88.79" font-family='"Liberation Sans", Arial, sans-serif' font-size="9.7" font-weight="bold" text-anchor="middle" fill="#6a1a7c" >(C)</text>
<rect x="328.00" y="92.00" width="17.00" height="12" fill="#fff"/>
<text x="336.50" y="101.10" font-family='"Liberation Sans", Arial, sans-serif' font-size="8.6" font-weight="bold" text-anchor="middle" fill="#1f3a7a" >C</text>
<rect x="328" y="104" width="17" height="10" fill="#fff"/>
<rect x="328.73" y="103.85" width="14.55" height="9.5" fill="#fff"/>
<text x="336.00" y="110.67" font-family='"Liberation Sans", Arial, sans-serif' font-size="7.7" font-weight="bold" text-anchor="middle" fill="#1f8a1f" >[v]</text>
<rect x="390.53" y="209.85" width="14.55" height="9.5" fill="#fff"/>
<text x="397.80" y="216.67" font-family='"Liberation Sans", Arial, sans-serif' font-size="7.7" font-weight="bold" text-anchor="middle" fill="#1f8a1f" font-style="italic">[i]</text>
<rect x="425.60" y="123.45" width="18.40" height="9.5" fill="#fff"/>
<text x="434.80" y="130.27" font-family='"Liberation Sans", Arial, sans-serif' font-size="7.7" font-weight="bold" text-anchor="middle" fill="#1f8a1f" font-style="italic">[ii]</text>
<rect x="506.17" y="251.65" width="22.25" height="9.5" fill="#fff"/>
<text x="517.30" y="258.47" font-family='"Liberation Sans", Arial, sans-serif' font-size="7.7" font-weight="bold" text-anchor="middle" fill="#1f8a1f" >[iii]</text>
<rect x="530.00" y="171.75" width="18.40" height="9.5" fill="#fff"/>
<text x="539.20" y="178.57" font-family='"Liberation Sans", Arial, sans-serif' font-size="7.7" font-weight="bold" text-anchor="middle" fill="#1f8a1f" >[iv]</text>
<rect x="577.73" y="292.65" width="14.55" height="9.5" fill="#fff"/>
<text x="585.00" y="299.47" font-family='"Liberation Sans", Arial, sans-serif' font-size="7.7" font-weight="bold" text-anchor="middle" fill="#1f8a1f" >[v]</text>
<rect x="579.00" y="303.75" width="12.00" height="9.5" fill="#fff"/>
<text x="585.00" y="311.60" font-family='"Liberation Sans", Arial, sans-serif' font-size="8.6" font-weight="bold" text-anchor="middle" fill="#1f3a7a" >1</text>
<rect x="589.40" y="165.95" width="11.80" height="9.5" fill="#fff"/>
<text x="595.30" y="173.87" font-family='"Liberation Sans", Arial, sans-serif' font-size="8.8" font-weight="bold" text-anchor="middle" fill="#1f3a7a" font-style="italic">2?</text>
<rect x="587.83" y="176.05" width="14.55" height="9.5" fill="#fff"/>
<text x="595.10" y="182.87" font-family='"Liberation Sans", Arial, sans-serif' font-size="7.7" font-weight="bold" text-anchor="middle" fill="#1f8a1f" font-style="italic">[a]</text>
<rect x="14.65" y="32.3" width="233.5" height="75.1" fill="#fff" stroke="#1f8f1f" stroke-width="1.35"/>
<text y="42.8" font-family='"Liberation Sans", Arial, sans-serif' font-size="8.7" font-weight="bold" fill="#111"><tspan x="21.20" textLength="33.0" lengthAdjust="spacingAndGlyphs">Primary</tspan> <tspan x="56.75" textLength="11.7" lengthAdjust="spacingAndGlyphs">[1]</tspan> <tspan x="70.65" textLength="11.9" lengthAdjust="spacingAndGlyphs">[2]</tspan> <tspan x="84.75" textLength="11.9" lengthAdjust="spacingAndGlyphs">[3]</tspan> <tspan x="98.75" textLength="11.7" lengthAdjust="spacingAndGlyphs">[4]</tspan> <tspan x="112.75" textLength="11.8" lengthAdjust="spacingAndGlyphs">[5]</tspan> <tspan x="126.75" font-size="9.8" font-weight="normal" stroke="#111" stroke-width="0.35" textLength="3.8" lengthAdjust="spacingAndGlyphs">/</tspan> <tspan x="132.75" textLength="12.2" lengthAdjust="spacingAndGlyphs">[A]</tspan> <tspan x="147.15" textLength="11.9" lengthAdjust="spacingAndGlyphs">[B]</tspan> <tspan x="161.25" textLength="11.6" lengthAdjust="spacingAndGlyphs">[C]</tspan> <tspan x="175.55" textLength="16.0" lengthAdjust="spacingAndGlyphs">[W]</tspan> <tspan x="193.85" textLength="11.7" lengthAdjust="spacingAndGlyphs">[X]</tspan> <tspan x="207.95" textLength="11.7" lengthAdjust="spacingAndGlyphs">[Y]</tspan></text>
<text y="54.8" font-family='"Liberation Sans", Arial, sans-serif' font-size="8.7" font-weight="bold" fill="#7b1f8a"><tspan x="21.20" textLength="54.6" lengthAdjust="spacingAndGlyphs">Intermediate</tspan> <tspan x="78.15" textLength="11.4" lengthAdjust="spacingAndGlyphs">(1)</tspan> <tspan x="91.95" textLength="11.4" lengthAdjust="spacingAndGlyphs">(2)</tspan> <tspan x="105.25" textLength="11.5" lengthAdjust="spacingAndGlyphs">(3)</tspan> <tspan x="119.05" textLength="11.5" lengthAdjust="spacingAndGlyphs">(4)</tspan> <tspan x="132.75" textLength="11.5" lengthAdjust="spacingAndGlyphs">(5)</tspan> <tspan x="146.65" font-size="9.8" font-weight="normal" stroke="#7b1f8a" stroke-width="0.35" textLength="3.8" lengthAdjust="spacingAndGlyphs">/</tspan> <tspan x="152.95" textLength="12.4" lengthAdjust="spacingAndGlyphs">(A)</tspan> <tspan x="167.45" textLength="12.1" lengthAdjust="spacingAndGlyphs">(B)</tspan> <tspan x="181.75" textLength="11.6" lengthAdjust="spacingAndGlyphs">(C)</tspan> <tspan x="195.55" textLength="15.7" lengthAdjust="spacingAndGlyphs">(W)</tspan> <tspan x="213.15" textLength="12.2" lengthAdjust="spacingAndGlyphs">(X)</tspan> <tspan x="227.25" textLength="11.4" lengthAdjust="spacingAndGlyphs">(Y)</tspan></text>
<text y="66.8" font-family='"Liberation Sans", Arial, sans-serif' font-size="8.7" font-weight="bold" fill="#1f3a7a"><tspan x="21.20" textLength="25.3" lengthAdjust="spacingAndGlyphs">Minor</tspan> <tspan x="49.40" textLength="4.1" lengthAdjust="spacingAndGlyphs">1</tspan> <tspan x="56.40" textLength="5.6" lengthAdjust="spacingAndGlyphs">2</tspan> <tspan x="64.20" textLength="5.5" lengthAdjust="spacingAndGlyphs">3</tspan> <tspan x="71.60" textLength="5.9" lengthAdjust="spacingAndGlyphs">4</tspan> <tspan x="79.70" textLength="4.8" lengthAdjust="spacingAndGlyphs">5</tspan> <tspan x="87.00" font-size="9.8" font-weight="normal" stroke="#1f3a7a" stroke-width="0.35" textLength="3.8" lengthAdjust="spacingAndGlyphs">/</tspan> <tspan x="93.10" textLength="6.2" lengthAdjust="spacingAndGlyphs">A</tspan> <tspan x="101.50" textLength="5.4" lengthAdjust="spacingAndGlyphs">B</tspan> <tspan x="108.70" textLength="5.8" lengthAdjust="spacingAndGlyphs">C</tspan> <tspan x="116.40" textLength="8.9" lengthAdjust="spacingAndGlyphs">W</tspan> <tspan x="127.60" textLength="5.9" lengthAdjust="spacingAndGlyphs">X</tspan> <tspan x="135.40" textLength="5.2" lengthAdjust="spacingAndGlyphs">Y</tspan></text>
<text y="78.8" font-family='"Liberation Sans", Arial, sans-serif' font-size="8.7" font-weight="bold" fill="#1f8a1f"><tspan x="21.20" textLength="30.5" lengthAdjust="spacingAndGlyphs">Minute</tspan> <tspan x="54.15" textLength="9.1" lengthAdjust="spacingAndGlyphs">[i]</tspan> <tspan x="65.45" textLength="11.5" lengthAdjust="spacingAndGlyphs">[ii]</tspan> <tspan x="79.05" textLength="14.0" lengthAdjust="spacingAndGlyphs">[iii]</tspan> <tspan x="95.45" textLength="13.0" lengthAdjust="spacingAndGlyphs">[iv]</tspan> <tspan x="111.25" textLength="11.4" lengthAdjust="spacingAndGlyphs">[v]</tspan> <tspan x="125.35" font-size="9.8" font-weight="normal" stroke="#1f8a1f" stroke-width="0.35" textLength="3.8" lengthAdjust="spacingAndGlyphs">/</tspan> <tspan x="131.75" textLength="11.1" lengthAdjust="spacingAndGlyphs">[a]</tspan> <tspan x="145.45" textLength="11.0" lengthAdjust="spacingAndGlyphs">[b]</tspan> <tspan x="159.05" textLength="9.8" lengthAdjust="spacingAndGlyphs">[c]</tspan> <tspan x="171.75" textLength="13.7" lengthAdjust="spacingAndGlyphs">[w]</tspan> <tspan x="188.25" textLength="11.0" lengthAdjust="spacingAndGlyphs">[x]</tspan> <tspan x="201.85" textLength="11.5" lengthAdjust="spacingAndGlyphs">[y]</tspan></text>
<text y="90.8" font-family='"Liberation Sans", Arial, sans-serif' font-size="8.7" font-weight="bold" fill="#ffb400"><tspan x="21.20" textLength="34.4" lengthAdjust="spacingAndGlyphs">Minutte</tspan> <tspan x="57.65" textLength="8.7" lengthAdjust="spacingAndGlyphs">(i)</tspan> <tspan x="68.55" textLength="11.4" lengthAdjust="spacingAndGlyphs">(ii)</tspan> <tspan x="82.35" textLength="13.6" lengthAdjust="spacingAndGlyphs">(iii)</tspan> <tspan x="98.45" textLength="13.4" lengthAdjust="spacingAndGlyphs">(iv)</tspan> <tspan x="114.15" textLength="11.1" lengthAdjust="spacingAndGlyphs">(v)</tspan> <tspan x="127.95" font-size="9.8" font-weight="normal" stroke="#ffb400" stroke-width="0.35" textLength="3.8" lengthAdjust="spacingAndGlyphs">/</tspan> <tspan x="134.15" textLength="10.8" lengthAdjust="spacingAndGlyphs">(a)</tspan> <tspan x="147.55" textLength="11.2" lengthAdjust="spacingAndGlyphs">(b)</tspan> <tspan x="161.25" textLength="10.2" lengthAdjust="spacingAndGlyphs">(c)</tspan> <tspan x="173.65" textLength="13.6" lengthAdjust="spacingAndGlyphs">(w)</tspan> <tspan x="189.65" textLength="11.0" lengthAdjust="spacingAndGlyphs">(x)</tspan> <tspan x="202.85" textLength="11.2" lengthAdjust="spacingAndGlyphs">(y)</tspan></text>
<text y="102.7" font-family='"Liberation Sans", Arial, sans-serif' font-size="8.7" font-weight="bold" fill="#8a8a8a"><tspan x="21.20" textLength="48.5" lengthAdjust="spacingAndGlyphs">Subminutte</tspan> <tspan x="71.90" textLength="2.5" lengthAdjust="spacingAndGlyphs">i</tspan> <tspan x="76.90" textLength="4.8" lengthAdjust="spacingAndGlyphs">ii</tspan> <tspan x="84.60" textLength="6.9" lengthAdjust="spacingAndGlyphs">iii</tspan> <tspan x="94.50" textLength="8.0" lengthAdjust="spacingAndGlyphs">iv</tspan> <tspan x="104.50" textLength="4.4" lengthAdjust="spacingAndGlyphs">v</tspan> <tspan x="111.95" font-size="9.8" font-weight="normal" stroke="#8a8a8a" stroke-width="0.35" textLength="3.8" lengthAdjust="spacingAndGlyphs">/</tspan> <tspan x="118.10" textLength="4.8" lengthAdjust="spacingAndGlyphs">a</tspan> <tspan x="125.20" textLength="4.8" lengthAdjust="spacingAndGlyphs">b</tspan> <tspan x="132.20" textLength="4.4" lengthAdjust="spacingAndGlyphs">c</tspan> <tspan x="138.50" textLength="4.9" lengthAdjust="spacingAndGlyphs">x</tspan> <tspan x="145.60" textLength="6.9" lengthAdjust="spacingAndGlyphs">w</tspan> <tspan x="154.70" textLength="4.2" lengthAdjust="spacingAndGlyphs">z</tspan></text>
</svg></body></html>
